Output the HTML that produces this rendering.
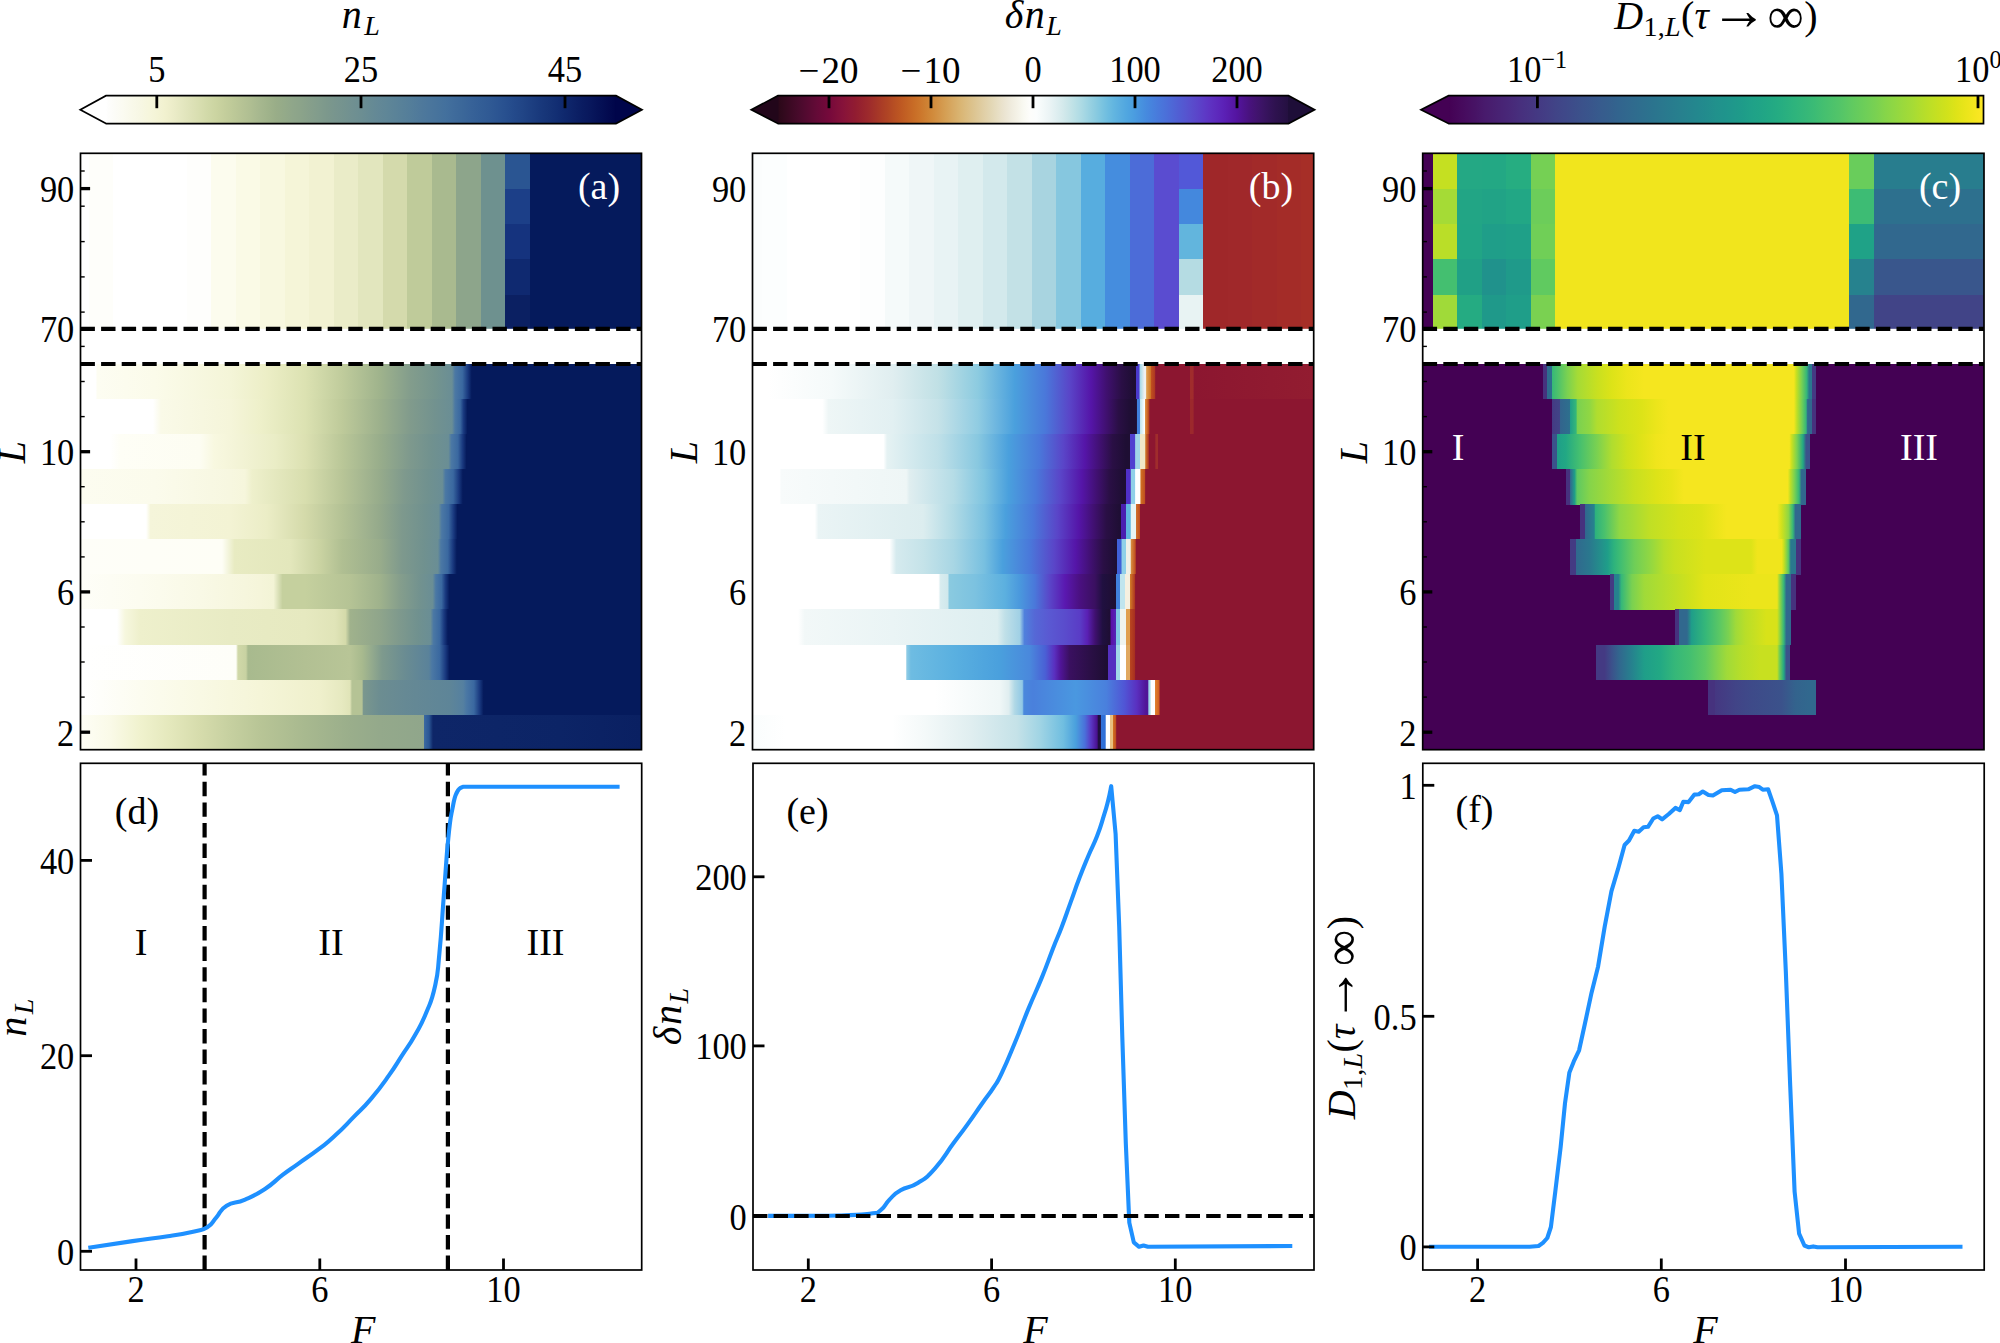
<!DOCTYPE html>
<html><head><meta charset="utf-8"><title>figure</title>
<style>html,body{margin:0;padding:0;background:#fff}svg{display:block}text{font-family:'Liberation Serif','DejaVu Serif',serif;}</style></head>
<body><svg width="2000" height="1343" viewBox="0 0 2000 1343" shape-rendering="auto">
<defs><linearGradient id="cba" gradientUnits="userSpaceOnUse" x1="106.0" y1="0" x2="616.0" y2="0"><stop offset="0.0000" stop-color="#fefefe"/><stop offset="0.0167" stop-color="#fcfcf7"/><stop offset="0.0333" stop-color="#fbfbf1"/><stop offset="0.0500" stop-color="#f9f9ea"/><stop offset="0.0667" stop-color="#f7f7e4"/><stop offset="0.0833" stop-color="#f6f6dd"/><stop offset="0.1000" stop-color="#f4f4d6"/><stop offset="0.1167" stop-color="#f1f1cf"/><stop offset="0.1333" stop-color="#ebecc8"/><stop offset="0.1500" stop-color="#e4e7c0"/><stop offset="0.1667" stop-color="#dee2b8"/><stop offset="0.1833" stop-color="#d8deb0"/><stop offset="0.2000" stop-color="#d1d9a8"/><stop offset="0.2167" stop-color="#cbd4a1"/><stop offset="0.2333" stop-color="#c4ce9c"/><stop offset="0.2500" stop-color="#bdc998"/><stop offset="0.2667" stop-color="#b6c395"/><stop offset="0.2833" stop-color="#afbe92"/><stop offset="0.3000" stop-color="#a7b88f"/><stop offset="0.3167" stop-color="#a0b38b"/><stop offset="0.3333" stop-color="#99ad88"/><stop offset="0.3500" stop-color="#94aa89"/><stop offset="0.3667" stop-color="#8fa68a"/><stop offset="0.3833" stop-color="#8ba38a"/><stop offset="0.4000" stop-color="#869f8b"/><stop offset="0.4167" stop-color="#819c8c"/><stop offset="0.4333" stop-color="#7c988c"/><stop offset="0.4500" stop-color="#78958e"/><stop offset="0.4667" stop-color="#74938f"/><stop offset="0.4833" stop-color="#709091"/><stop offset="0.5000" stop-color="#6c8e92"/><stop offset="0.5167" stop-color="#678b94"/><stop offset="0.5333" stop-color="#638896"/><stop offset="0.5500" stop-color="#5f8697"/><stop offset="0.5667" stop-color="#5b8398"/><stop offset="0.5833" stop-color="#578099"/><stop offset="0.6000" stop-color="#537d9a"/><stop offset="0.6167" stop-color="#4f799b"/><stop offset="0.6333" stop-color="#4b769c"/><stop offset="0.6500" stop-color="#47739c"/><stop offset="0.6667" stop-color="#43709d"/><stop offset="0.6833" stop-color="#3f6b9b"/><stop offset="0.7000" stop-color="#3b6799"/><stop offset="0.7167" stop-color="#376298"/><stop offset="0.7333" stop-color="#335e96"/><stop offset="0.7500" stop-color="#305a94"/><stop offset="0.7667" stop-color="#2c5592"/><stop offset="0.7833" stop-color="#28508f"/><stop offset="0.8000" stop-color="#244a8b"/><stop offset="0.8167" stop-color="#214586"/><stop offset="0.8333" stop-color="#1d3f81"/><stop offset="0.8500" stop-color="#19397c"/><stop offset="0.8667" stop-color="#163477"/><stop offset="0.8833" stop-color="#122e73"/><stop offset="0.9000" stop-color="#0f286d"/><stop offset="0.9167" stop-color="#0d2267"/><stop offset="0.9333" stop-color="#0a1c61"/><stop offset="0.9500" stop-color="#08175c"/><stop offset="0.9667" stop-color="#051156"/><stop offset="0.9833" stop-color="#030b50"/><stop offset="1.0000" stop-color="#00054a"/></linearGradient><linearGradient id="cbb" gradientUnits="userSpaceOnUse" x1="778.0" y1="0" x2="1288.5" y2="0"><stop offset="0.0000" stop-color="#2a0818"/><stop offset="0.0127" stop-color="#33091e"/><stop offset="0.0253" stop-color="#3d0924"/><stop offset="0.0380" stop-color="#460a2a"/><stop offset="0.0506" stop-color="#500a2f"/><stop offset="0.0633" stop-color="#5a0a33"/><stop offset="0.0759" stop-color="#640a37"/><stop offset="0.0886" stop-color="#6d0939"/><stop offset="0.1013" stop-color="#76093b"/><stop offset="0.1139" stop-color="#7e0e3a"/><stop offset="0.1266" stop-color="#86123a"/><stop offset="0.1392" stop-color="#8c1736"/><stop offset="0.1519" stop-color="#911c31"/><stop offset="0.1646" stop-color="#97232e"/><stop offset="0.1772" stop-color="#9d2a2c"/><stop offset="0.1899" stop-color="#a33329"/><stop offset="0.2025" stop-color="#aa3c26"/><stop offset="0.2152" stop-color="#b04524"/><stop offset="0.2278" stop-color="#b74f23"/><stop offset="0.2405" stop-color="#be5822"/><stop offset="0.2532" stop-color="#c36224"/><stop offset="0.2658" stop-color="#c86c26"/><stop offset="0.2785" stop-color="#cc762b"/><stop offset="0.2911" stop-color="#ce8133"/><stop offset="0.3038" stop-color="#d18b3c"/><stop offset="0.3165" stop-color="#d39549"/><stop offset="0.3291" stop-color="#d5a055"/><stop offset="0.3418" stop-color="#d7a963"/><stop offset="0.3544" stop-color="#d9b370"/><stop offset="0.3671" stop-color="#dbbb7e"/><stop offset="0.3797" stop-color="#dcc28c"/><stop offset="0.3924" stop-color="#dec99a"/><stop offset="0.4051" stop-color="#e1d0a8"/><stop offset="0.4177" stop-color="#e3d7b5"/><stop offset="0.4304" stop-color="#e7dec3"/><stop offset="0.4430" stop-color="#ebe4d1"/><stop offset="0.4557" stop-color="#efebdd"/><stop offset="0.4684" stop-color="#f4f2e7"/><stop offset="0.4810" stop-color="#f9f9f2"/><stop offset="0.4937" stop-color="#fdfdfb"/><stop offset="0.5063" stop-color="#fbfdfd"/><stop offset="0.5190" stop-color="#f3f9f9"/><stop offset="0.5316" stop-color="#ebf4f5"/><stop offset="0.5443" stop-color="#e0eff1"/><stop offset="0.5570" stop-color="#d5eaec"/><stop offset="0.5696" stop-color="#c8e5e8"/><stop offset="0.5823" stop-color="#bae0e6"/><stop offset="0.5949" stop-color="#acdae4"/><stop offset="0.6076" stop-color="#9cd3e2"/><stop offset="0.6203" stop-color="#8dcce0"/><stop offset="0.6329" stop-color="#7dc5e0"/><stop offset="0.6456" stop-color="#6ebde0"/><stop offset="0.6582" stop-color="#62b5e0"/><stop offset="0.6709" stop-color="#59ade0"/><stop offset="0.6835" stop-color="#50a6e0"/><stop offset="0.6962" stop-color="#4b9ee0"/><stop offset="0.7089" stop-color="#4894df"/><stop offset="0.7215" stop-color="#468ade"/><stop offset="0.7342" stop-color="#4781dd"/><stop offset="0.7468" stop-color="#4978db"/><stop offset="0.7595" stop-color="#4b70d9"/><stop offset="0.7722" stop-color="#4e67d6"/><stop offset="0.7848" stop-color="#515ed3"/><stop offset="0.7975" stop-color="#5556d0"/><stop offset="0.8101" stop-color="#594dcc"/><stop offset="0.8228" stop-color="#5b44c9"/><stop offset="0.8354" stop-color="#5d3ac6"/><stop offset="0.8481" stop-color="#5e31c1"/><stop offset="0.8608" stop-color="#5d29bc"/><stop offset="0.8734" stop-color="#5b21b6"/><stop offset="0.8861" stop-color="#581aab"/><stop offset="0.8987" stop-color="#5414a0"/><stop offset="0.9114" stop-color="#4e138e"/><stop offset="0.9241" stop-color="#48127d"/><stop offset="0.9367" stop-color="#421370"/><stop offset="0.9494" stop-color="#3b1464"/><stop offset="0.9620" stop-color="#341359"/><stop offset="0.9747" stop-color="#2e124f"/><stop offset="0.9873" stop-color="#291148"/><stop offset="1.0000" stop-color="#241040"/></linearGradient><linearGradient id="cbc" gradientUnits="userSpaceOnUse" x1="1448.6" y1="0" x2="1983.5" y2="0"><stop offset="0.0000" stop-color="#440154"/><stop offset="0.0167" stop-color="#46075a"/><stop offset="0.0333" stop-color="#470d60"/><stop offset="0.0500" stop-color="#471365"/><stop offset="0.0667" stop-color="#481a6c"/><stop offset="0.0833" stop-color="#481f70"/><stop offset="0.1000" stop-color="#482475"/><stop offset="0.1167" stop-color="#482979"/><stop offset="0.1333" stop-color="#472f7d"/><stop offset="0.1500" stop-color="#463480"/><stop offset="0.1667" stop-color="#443983"/><stop offset="0.1833" stop-color="#433e85"/><stop offset="0.2000" stop-color="#414487"/><stop offset="0.2167" stop-color="#3f4889"/><stop offset="0.2333" stop-color="#3d4d8a"/><stop offset="0.2500" stop-color="#3b528b"/><stop offset="0.2667" stop-color="#39568c"/><stop offset="0.2833" stop-color="#375b8d"/><stop offset="0.3000" stop-color="#355f8d"/><stop offset="0.3167" stop-color="#32648e"/><stop offset="0.3333" stop-color="#31688e"/><stop offset="0.3500" stop-color="#2f6c8e"/><stop offset="0.3667" stop-color="#2d708e"/><stop offset="0.3833" stop-color="#2b748e"/><stop offset="0.4000" stop-color="#2a788e"/><stop offset="0.4167" stop-color="#287c8e"/><stop offset="0.4333" stop-color="#27808e"/><stop offset="0.4500" stop-color="#25848e"/><stop offset="0.4667" stop-color="#23888e"/><stop offset="0.4833" stop-color="#228c8d"/><stop offset="0.5000" stop-color="#21918c"/><stop offset="0.5167" stop-color="#1f948c"/><stop offset="0.5333" stop-color="#1f988b"/><stop offset="0.5500" stop-color="#1e9c89"/><stop offset="0.5667" stop-color="#1fa188"/><stop offset="0.5833" stop-color="#20a486"/><stop offset="0.6000" stop-color="#22a884"/><stop offset="0.6167" stop-color="#25ac82"/><stop offset="0.6333" stop-color="#2ab07f"/><stop offset="0.6500" stop-color="#2fb47c"/><stop offset="0.6667" stop-color="#35b779"/><stop offset="0.6833" stop-color="#3bbb75"/><stop offset="0.7000" stop-color="#44bf70"/><stop offset="0.7167" stop-color="#4cc26c"/><stop offset="0.7333" stop-color="#54c568"/><stop offset="0.7500" stop-color="#5ec962"/><stop offset="0.7667" stop-color="#67cc5c"/><stop offset="0.7833" stop-color="#70cf57"/><stop offset="0.8000" stop-color="#7ad151"/><stop offset="0.8167" stop-color="#86d549"/><stop offset="0.8333" stop-color="#90d743"/><stop offset="0.8500" stop-color="#9bd93c"/><stop offset="0.8667" stop-color="#a5db36"/><stop offset="0.8833" stop-color="#b2dd2d"/><stop offset="0.9000" stop-color="#bddf26"/><stop offset="0.9167" stop-color="#c8e020"/><stop offset="0.9333" stop-color="#d2e21b"/><stop offset="0.9500" stop-color="#dfe318"/><stop offset="0.9667" stop-color="#eae51a"/><stop offset="0.9833" stop-color="#f4e61e"/><stop offset="1.0000" stop-color="#fde725"/></linearGradient><linearGradient id="a12" gradientUnits="userSpaceOnUse" x1="80.50" y1="0" x2="641.50" y2="0"><stop offset="0.0000" stop-color="#FFFFFF"/><stop offset="0.0276" stop-color="#FFFFFF"/><stop offset="0.0294" stop-color="#FDFDF2"/><stop offset="0.1328" stop-color="#FBFBEA"/><stop offset="0.2665" stop-color="#F4F5D8"/><stop offset="0.3324" stop-color="#ECEEC6"/><stop offset="0.4002" stop-color="#DCE2B2"/><stop offset="0.4661" stop-color="#C0CC9C"/><stop offset="0.5339" stop-color="#9FB38C"/><stop offset="0.5873" stop-color="#839D8C"/><stop offset="0.6319" stop-color="#74948E"/><stop offset="0.6622" stop-color="#6A8E95"/><stop offset="0.6676" stop-color="#4B78A4"/><stop offset="0.6807" stop-color="#3A68A0"/><stop offset="0.6902" stop-color="#1A3A80"/><stop offset="0.6973" stop-color="#051A5C"/><stop offset="1.0000" stop-color="#051A5C"/></linearGradient><linearGradient id="a11" gradientUnits="userSpaceOnUse" x1="80.50" y1="0" x2="641.50" y2="0"><stop offset="0.0000" stop-color="#FFFFFF"/><stop offset="0.1292" stop-color="#FFFFFF"/><stop offset="0.1435" stop-color="#FAFAE8"/><stop offset="0.2665" stop-color="#F5F5DA"/><stop offset="0.3200" stop-color="#EEF0CA"/><stop offset="0.4002" stop-color="#DCE2B2"/><stop offset="0.4661" stop-color="#BECA9A"/><stop offset="0.5339" stop-color="#9CB08C"/><stop offset="0.5873" stop-color="#819B8C"/><stop offset="0.6319" stop-color="#72928F"/><stop offset="0.6622" stop-color="#6A8E95"/><stop offset="0.6676" stop-color="#4B78A4"/><stop offset="0.6769" stop-color="#3A68A0"/><stop offset="0.6827" stop-color="#1A3A80"/><stop offset="0.6898" stop-color="#051A5C"/><stop offset="1.0000" stop-color="#051A5C"/></linearGradient><linearGradient id="a10" gradientUnits="userSpaceOnUse" x1="80.50" y1="0" x2="641.50" y2="0"><stop offset="0.0000" stop-color="#FFFFFF"/><stop offset="0.0526" stop-color="#FFFFFF"/><stop offset="0.0704" stop-color="#FEFEF6"/><stop offset="0.2130" stop-color="#FDFDF2"/><stop offset="0.2380" stop-color="#F8F8E0"/><stop offset="0.2665" stop-color="#F5F5DA"/><stop offset="0.3467" stop-color="#EAEDC6"/><stop offset="0.4002" stop-color="#DCE1B2"/><stop offset="0.4661" stop-color="#BAC798"/><stop offset="0.5339" stop-color="#98AD8B"/><stop offset="0.5873" stop-color="#7E998D"/><stop offset="0.6266" stop-color="#70918F"/><stop offset="0.6558" stop-color="#6A8E95"/><stop offset="0.6611" stop-color="#4B78A4"/><stop offset="0.6728" stop-color="#3A68A0"/><stop offset="0.6809" stop-color="#1A3A80"/><stop offset="0.6881" stop-color="#051A5C"/><stop offset="1.0000" stop-color="#051A5C"/></linearGradient><linearGradient id="a9" gradientUnits="userSpaceOnUse" x1="80.50" y1="0" x2="641.50" y2="0"><stop offset="0.0000" stop-color="#FCFCF0"/><stop offset="0.1328" stop-color="#FBFBEC"/><stop offset="0.2665" stop-color="#F7F7E0"/><stop offset="0.2932" stop-color="#F6F6DC"/><stop offset="0.3057" stop-color="#EEF0CC"/><stop offset="0.4002" stop-color="#D8DEAE"/><stop offset="0.4661" stop-color="#B8C597"/><stop offset="0.5339" stop-color="#96AB8B"/><stop offset="0.5784" stop-color="#7E998D"/><stop offset="0.6194" stop-color="#70918F"/><stop offset="0.6451" stop-color="#6A8E95"/><stop offset="0.6504" stop-color="#4B78A4"/><stop offset="0.6642" stop-color="#3A68A0"/><stop offset="0.6743" stop-color="#1A3A80"/><stop offset="0.6815" stop-color="#051A5C"/><stop offset="1.0000" stop-color="#051A5C"/></linearGradient><linearGradient id="a8" gradientUnits="userSpaceOnUse" x1="80.50" y1="0" x2="641.50" y2="0"><stop offset="0.0000" stop-color="#FFFFFF"/><stop offset="0.1168" stop-color="#FFFFFF"/><stop offset="0.1248" stop-color="#F5F5DA"/><stop offset="0.2665" stop-color="#F3F3D4"/><stop offset="0.3324" stop-color="#EBEDC6"/><stop offset="0.4002" stop-color="#D4DAAA"/><stop offset="0.4661" stop-color="#B4C295"/><stop offset="0.5339" stop-color="#94A98B"/><stop offset="0.5731" stop-color="#7E998D"/><stop offset="0.6141" stop-color="#70918F"/><stop offset="0.6385" stop-color="#6A8E95"/><stop offset="0.6439" stop-color="#4B78A4"/><stop offset="0.6561" stop-color="#3A68A0"/><stop offset="0.6649" stop-color="#1A3A80"/><stop offset="0.6720" stop-color="#051A5C"/><stop offset="1.0000" stop-color="#051A5C"/></linearGradient><linearGradient id="a7" gradientUnits="userSpaceOnUse" x1="80.50" y1="0" x2="641.50" y2="0"><stop offset="0.0000" stop-color="#FEFEF8"/><stop offset="0.2522" stop-color="#FEFEF6"/><stop offset="0.2745" stop-color="#E8EBC2"/><stop offset="0.3734" stop-color="#E3E7BC"/><stop offset="0.4269" stop-color="#CAD3A2"/><stop offset="0.4661" stop-color="#B0BF92"/><stop offset="0.5339" stop-color="#98AC8B"/><stop offset="0.5731" stop-color="#7E998D"/><stop offset="0.6123" stop-color="#70918F"/><stop offset="0.6371" stop-color="#6A8E95"/><stop offset="0.6424" stop-color="#4B78A4"/><stop offset="0.6548" stop-color="#3A68A0"/><stop offset="0.6636" stop-color="#1A3A80"/><stop offset="0.6708" stop-color="#051A5C"/><stop offset="1.0000" stop-color="#051A5C"/></linearGradient><linearGradient id="a6" gradientUnits="userSpaceOnUse" x1="80.50" y1="0" x2="641.50" y2="0"><stop offset="0.0000" stop-color="#FEFEF8"/><stop offset="0.1061" stop-color="#FCFCF0"/><stop offset="0.2130" stop-color="#F9F9E6"/><stop offset="0.3200" stop-color="#F5F5DA"/><stop offset="0.3440" stop-color="#F3F4D6"/><stop offset="0.3601" stop-color="#C5D09E"/><stop offset="0.4002" stop-color="#C5D09E"/><stop offset="0.4804" stop-color="#B5C395"/><stop offset="0.5339" stop-color="#9FB28C"/><stop offset="0.5695" stop-color="#859E8C"/><stop offset="0.6052" stop-color="#72928F"/><stop offset="0.6278" stop-color="#6A8E95"/><stop offset="0.6332" stop-color="#4B78A4"/><stop offset="0.6436" stop-color="#3A68A0"/><stop offset="0.6504" stop-color="#1A3A80"/><stop offset="0.6576" stop-color="#051A5C"/><stop offset="1.0000" stop-color="#051A5C"/></linearGradient><linearGradient id="a5" gradientUnits="userSpaceOnUse" x1="80.50" y1="0" x2="641.50" y2="0"><stop offset="0.0000" stop-color="#FFFFFF"/><stop offset="0.0651" stop-color="#FFFFFF"/><stop offset="0.0793" stop-color="#F6F7DE"/><stop offset="0.1061" stop-color="#EEF0CC"/><stop offset="0.2665" stop-color="#E8EBC4"/><stop offset="0.4002" stop-color="#E6E9C0"/><stop offset="0.4537" stop-color="#E0E4B8"/><stop offset="0.4724" stop-color="#D4DAAA"/><stop offset="0.4804" stop-color="#A0B28C"/><stop offset="0.5339" stop-color="#8FA58B"/><stop offset="0.5695" stop-color="#7E998D"/><stop offset="0.6016" stop-color="#70918F"/><stop offset="0.6239" stop-color="#6A8E95"/><stop offset="0.6292" stop-color="#4B78A4"/><stop offset="0.6403" stop-color="#3A68A0"/><stop offset="0.6478" stop-color="#1A3A80"/><stop offset="0.6549" stop-color="#051A5C"/><stop offset="1.0000" stop-color="#051A5C"/></linearGradient><linearGradient id="a4" gradientUnits="userSpaceOnUse" x1="80.50" y1="0" x2="641.50" y2="0"><stop offset="0.0000" stop-color="#FFFFFF"/><stop offset="0.2772" stop-color="#FEFEF8"/><stop offset="0.2807" stop-color="#D0D8A8"/><stop offset="0.2950" stop-color="#C8D2A2"/><stop offset="0.2986" stop-color="#A8BA8E"/><stop offset="0.4002" stop-color="#B2C093"/><stop offset="0.4804" stop-color="#B8C597"/><stop offset="0.5018" stop-color="#A8BA8E"/><stop offset="0.5374" stop-color="#7E9A8D"/><stop offset="0.5784" stop-color="#6A8C92"/><stop offset="0.6212" stop-color="#5A829A"/><stop offset="0.6266" stop-color="#4B78A4"/><stop offset="0.6403" stop-color="#3A68A0"/><stop offset="0.6504" stop-color="#1A3A80"/><stop offset="0.6576" stop-color="#051A5C"/><stop offset="1.0000" stop-color="#051A5C"/></linearGradient><linearGradient id="a3" gradientUnits="userSpaceOnUse" x1="80.50" y1="0" x2="641.50" y2="0"><stop offset="0.0000" stop-color="#FFFFFF"/><stop offset="0.1061" stop-color="#FCFCF0"/><stop offset="0.2130" stop-color="#F9F9E4"/><stop offset="0.3200" stop-color="#F5F5D8"/><stop offset="0.4269" stop-color="#EFF0CC"/><stop offset="0.4661" stop-color="#E6E9C0"/><stop offset="0.4804" stop-color="#E0E4B8"/><stop offset="0.4840" stop-color="#B5C395"/><stop offset="0.5018" stop-color="#B5C395"/><stop offset="0.5045" stop-color="#7A978E"/><stop offset="0.5339" stop-color="#6C8D91"/><stop offset="0.5784" stop-color="#668994"/><stop offset="0.6586" stop-color="#5E8598"/><stop offset="0.6822" stop-color="#5580A0"/><stop offset="0.6875" stop-color="#4B78A4"/><stop offset="0.7012" stop-color="#3A68A0"/><stop offset="0.7114" stop-color="#1A3A80"/><stop offset="0.7185" stop-color="#051A5C"/><stop offset="1.0000" stop-color="#051A5C"/></linearGradient><linearGradient id="a2" gradientUnits="userSpaceOnUse" x1="80.50" y1="0" x2="641.50" y2="0"><stop offset="0.0000" stop-color="#FEFEF6"/><stop offset="0.0526" stop-color="#FAFAE8"/><stop offset="0.1061" stop-color="#F0F2CE"/><stop offset="0.1595" stop-color="#E4E8BC"/><stop offset="0.2130" stop-color="#D6DCAC"/><stop offset="0.2665" stop-color="#C6D0A0"/><stop offset="0.3200" stop-color="#B8C596"/><stop offset="0.4002" stop-color="#A8B98F"/><stop offset="0.4804" stop-color="#9AAE8B"/><stop offset="0.5339" stop-color="#94A98B"/><stop offset="0.6114" stop-color="#90A68B"/><stop offset="0.6132" stop-color="#3A68A0"/><stop offset="0.6212" stop-color="#2B5795"/><stop offset="0.6283" stop-color="#0E2668"/><stop offset="0.8547" stop-color="#0C2466"/><stop offset="0.9991" stop-color="#0A2062"/><stop offset="1.0000" stop-color="#0A2062"/></linearGradient><linearGradient id="b12" gradientUnits="userSpaceOnUse" x1="752.50" y1="0" x2="1313.70" y2="0"><stop offset="0.0006" stop-color="#FFFFFF"/><stop offset="0.0267" stop-color="#FFFFFF"/><stop offset="0.1409" stop-color="#F5FAFA"/><stop offset="0.2497" stop-color="#E0EEF0"/><stop offset="0.3312" stop-color="#C0E0E5"/><stop offset="0.4020" stop-color="#8CCBE0"/><stop offset="0.4672" stop-color="#4AA0DD"/><stop offset="0.5216" stop-color="#4A78DA"/><stop offset="0.5651" stop-color="#5A45C8"/><stop offset="0.6032" stop-color="#5515A8"/><stop offset="0.6304" stop-color="#401070"/><stop offset="0.6576" stop-color="#2A0F45"/><stop offset="0.6793" stop-color="#1E0E33"/><stop offset="0.6826" stop-color="#1E0E33"/><stop offset="0.6837" stop-color="#4A3ACD"/><stop offset="0.6891" stop-color="#4A3ACD"/><stop offset="0.6902" stop-color="#A0D8E8"/><stop offset="0.6984" stop-color="#F0F0F0"/><stop offset="0.7011" stop-color="#F0F0F0"/><stop offset="0.7022" stop-color="#E0A050"/><stop offset="0.7092" stop-color="#D07828"/><stop offset="0.7103" stop-color="#C0501E"/><stop offset="0.7163" stop-color="#B03A22"/><stop offset="0.7185" stop-color="#8C1630"/><stop offset="0.7789" stop-color="#8C1630"/><stop offset="0.7799" stop-color="#A02C2C"/><stop offset="0.7854" stop-color="#A02C2C"/><stop offset="0.7865" stop-color="#8C1630"/><stop offset="0.8479" stop-color="#8E1830"/><stop offset="1.0000" stop-color="#921C30"/></linearGradient><linearGradient id="b11" gradientUnits="userSpaceOnUse" x1="752.50" y1="0" x2="1313.70" y2="0"><stop offset="0.0006" stop-color="#FFFFFF"/><stop offset="0.1246" stop-color="#FFFFFF"/><stop offset="0.1355" stop-color="#EEF6F6"/><stop offset="0.2497" stop-color="#E2F0F2"/><stop offset="0.3312" stop-color="#C5E2E8"/><stop offset="0.4020" stop-color="#90CCE2"/><stop offset="0.4672" stop-color="#4AA0DD"/><stop offset="0.5216" stop-color="#4A78DA"/><stop offset="0.5651" stop-color="#5A45C8"/><stop offset="0.6032" stop-color="#5515A8"/><stop offset="0.6304" stop-color="#401070"/><stop offset="0.6521" stop-color="#2A0F45"/><stop offset="0.6739" stop-color="#1E0E33"/><stop offset="0.6842" stop-color="#1E0E33"/><stop offset="0.6853" stop-color="#4080DD"/><stop offset="0.6897" stop-color="#4080DD"/><stop offset="0.6908" stop-color="#C0E5EE"/><stop offset="0.6989" stop-color="#FFFFFF"/><stop offset="0.7000" stop-color="#E09040"/><stop offset="0.7054" stop-color="#C0501E"/><stop offset="0.7082" stop-color="#8C1630"/><stop offset="0.7789" stop-color="#8C1630"/><stop offset="0.7799" stop-color="#9C282C"/><stop offset="0.7854" stop-color="#9C282C"/><stop offset="0.7865" stop-color="#8C1630"/><stop offset="1.0000" stop-color="#8C1630"/></linearGradient><linearGradient id="b10" gradientUnits="userSpaceOnUse" x1="752.50" y1="0" x2="1313.70" y2="0"><stop offset="0.0006" stop-color="#FFFFFF"/><stop offset="0.2333" stop-color="#FFFFFF"/><stop offset="0.2399" stop-color="#E5F2F3"/><stop offset="0.3312" stop-color="#BFE0E8"/><stop offset="0.4020" stop-color="#88C8E0"/><stop offset="0.4563" stop-color="#4AA0DD"/><stop offset="0.5107" stop-color="#4A78DA"/><stop offset="0.5542" stop-color="#5A45C8"/><stop offset="0.5923" stop-color="#5515A8"/><stop offset="0.6195" stop-color="#401070"/><stop offset="0.6413" stop-color="#2A0F45"/><stop offset="0.6657" stop-color="#1E0E33"/><stop offset="0.6723" stop-color="#1E0E33"/><stop offset="0.6733" stop-color="#5040D0"/><stop offset="0.6815" stop-color="#5040D0"/><stop offset="0.6826" stop-color="#A0D5E8"/><stop offset="0.6897" stop-color="#A0D5E8"/><stop offset="0.6908" stop-color="#F0E8C8"/><stop offset="0.6995" stop-color="#F0E8C8"/><stop offset="0.7005" stop-color="#D07828"/><stop offset="0.7054" stop-color="#B03A22"/><stop offset="0.7071" stop-color="#8C1630"/><stop offset="0.7174" stop-color="#8C1630"/><stop offset="0.7185" stop-color="#A02C2C"/><stop offset="0.7218" stop-color="#A02C2C"/><stop offset="0.7228" stop-color="#8C1630"/><stop offset="1.0000" stop-color="#8C1630"/></linearGradient><linearGradient id="b9" gradientUnits="userSpaceOnUse" x1="752.50" y1="0" x2="1313.70" y2="0"><stop offset="0.0006" stop-color="#FFFFFF"/><stop offset="0.0484" stop-color="#FFFFFF"/><stop offset="0.0512" stop-color="#F8FBFB"/><stop offset="0.2741" stop-color="#EEF6F6"/><stop offset="0.2796" stop-color="#E0EEF0"/><stop offset="0.3584" stop-color="#B5DCE6"/><stop offset="0.4128" stop-color="#80C5E0"/><stop offset="0.4563" stop-color="#4AA0DD"/><stop offset="0.5053" stop-color="#4A78DA"/><stop offset="0.5488" stop-color="#5A45C8"/><stop offset="0.5869" stop-color="#5515A8"/><stop offset="0.6141" stop-color="#401070"/><stop offset="0.6358" stop-color="#2A0F45"/><stop offset="0.6603" stop-color="#1E0E33"/><stop offset="0.6652" stop-color="#1E0E33"/><stop offset="0.6663" stop-color="#5030C8"/><stop offset="0.6733" stop-color="#5030C8"/><stop offset="0.6744" stop-color="#90D0E8"/><stop offset="0.6815" stop-color="#90D0E8"/><stop offset="0.6826" stop-color="#FFFFFF"/><stop offset="0.6908" stop-color="#FFFFFF"/><stop offset="0.6918" stop-color="#D07020"/><stop offset="0.6989" stop-color="#C05020"/><stop offset="0.7005" stop-color="#8C1630"/><stop offset="1.0000" stop-color="#8C1630"/></linearGradient><linearGradient id="b8" gradientUnits="userSpaceOnUse" x1="752.50" y1="0" x2="1313.70" y2="0"><stop offset="0.0006" stop-color="#FFFFFF"/><stop offset="0.1110" stop-color="#FFFFFF"/><stop offset="0.1175" stop-color="#EAF4F5"/><stop offset="0.3041" stop-color="#DCEDEF"/><stop offset="0.3584" stop-color="#B0DAE5"/><stop offset="0.4128" stop-color="#7CC2E0"/><stop offset="0.4509" stop-color="#4AA0DD"/><stop offset="0.4999" stop-color="#4A78DA"/><stop offset="0.5434" stop-color="#5A45C8"/><stop offset="0.5814" stop-color="#5515A8"/><stop offset="0.6086" stop-color="#401070"/><stop offset="0.6304" stop-color="#2A0F45"/><stop offset="0.6549" stop-color="#1E0E33"/><stop offset="0.6559" stop-color="#1E0E33"/><stop offset="0.6570" stop-color="#4A20B0"/><stop offset="0.6652" stop-color="#4A20B0"/><stop offset="0.6663" stop-color="#60B8E0"/><stop offset="0.6733" stop-color="#60B8E0"/><stop offset="0.6744" stop-color="#E8F4F4"/><stop offset="0.6826" stop-color="#E8F4F4"/><stop offset="0.6837" stop-color="#D0702A"/><stop offset="0.6897" stop-color="#C05020"/><stop offset="0.6913" stop-color="#8C1630"/><stop offset="1.0000" stop-color="#8C1630"/></linearGradient><linearGradient id="b7" gradientUnits="userSpaceOnUse" x1="752.50" y1="0" x2="1313.70" y2="0"><stop offset="0.0006" stop-color="#FFFFFF"/><stop offset="0.2442" stop-color="#FFFFFF"/><stop offset="0.2562" stop-color="#D5EAEE"/><stop offset="0.3041" stop-color="#C5E3E9"/><stop offset="0.3584" stop-color="#A8D6E4"/><stop offset="0.4128" stop-color="#78C0E0"/><stop offset="0.4455" stop-color="#4AA0DD"/><stop offset="0.4944" stop-color="#4A78DA"/><stop offset="0.5379" stop-color="#5A45C8"/><stop offset="0.5760" stop-color="#5515A8"/><stop offset="0.6032" stop-color="#401070"/><stop offset="0.6249" stop-color="#2A0F45"/><stop offset="0.6467" stop-color="#1E0E33"/><stop offset="0.6489" stop-color="#1E0E33"/><stop offset="0.6500" stop-color="#4060D8"/><stop offset="0.6570" stop-color="#4060D8"/><stop offset="0.6581" stop-color="#90D0E8"/><stop offset="0.6652" stop-color="#90D0E8"/><stop offset="0.6663" stop-color="#F0F0E8"/><stop offset="0.6733" stop-color="#F0F0E8"/><stop offset="0.6744" stop-color="#D89040"/><stop offset="0.6820" stop-color="#C05020"/><stop offset="0.6837" stop-color="#8C1630"/><stop offset="1.0000" stop-color="#8C1630"/></linearGradient><linearGradient id="b6" gradientUnits="userSpaceOnUse" x1="752.50" y1="0" x2="1313.70" y2="0"><stop offset="0.0006" stop-color="#FFFFFF"/><stop offset="0.3312" stop-color="#FFFFFF"/><stop offset="0.3351" stop-color="#D8ECEF"/><stop offset="0.3476" stop-color="#D0E8EC"/><stop offset="0.3508" stop-color="#8ACAE0"/><stop offset="0.3965" stop-color="#7CC2E0"/><stop offset="0.4498" stop-color="#5CB0DF"/><stop offset="0.4765" stop-color="#4A98DD"/><stop offset="0.5031" stop-color="#4A78DA"/><stop offset="0.5298" stop-color="#5A45C8"/><stop offset="0.5570" stop-color="#5A18B0"/><stop offset="0.5836" stop-color="#4A1080"/><stop offset="0.6103" stop-color="#3A1060"/><stop offset="0.6239" stop-color="#201040"/><stop offset="0.6451" stop-color="#1E0E33"/><stop offset="0.6472" stop-color="#1E0E33"/><stop offset="0.6483" stop-color="#4080DD"/><stop offset="0.6543" stop-color="#4080DD"/><stop offset="0.6554" stop-color="#C0E5EE"/><stop offset="0.6636" stop-color="#C0E5EE"/><stop offset="0.6646" stop-color="#F5F0E0"/><stop offset="0.6723" stop-color="#F5F0E0"/><stop offset="0.6733" stop-color="#D07828"/><stop offset="0.6810" stop-color="#B03A20"/><stop offset="0.6826" stop-color="#8C1630"/><stop offset="1.0000" stop-color="#8C1630"/></linearGradient><linearGradient id="b5" gradientUnits="userSpaceOnUse" x1="752.50" y1="0" x2="1313.70" y2="0"><stop offset="0.0006" stop-color="#FFFFFF"/><stop offset="0.0811" stop-color="#FFFFFF"/><stop offset="0.0930" stop-color="#F2F8F8"/><stop offset="0.2497" stop-color="#EAF4F5"/><stop offset="0.4362" stop-color="#DDEEF0"/><stop offset="0.4498" stop-color="#C0E0E8"/><stop offset="0.4765" stop-color="#A0D0E5"/><stop offset="0.4846" stop-color="#5080DC"/><stop offset="0.5031" stop-color="#5568D6"/><stop offset="0.5298" stop-color="#5A58D2"/><stop offset="0.5570" stop-color="#5A4CCC"/><stop offset="0.5836" stop-color="#5A3CC6"/><stop offset="0.5967" stop-color="#5A20B4"/><stop offset="0.6103" stop-color="#401070"/><stop offset="0.6239" stop-color="#201040"/><stop offset="0.6369" stop-color="#1E0E33"/><stop offset="0.6391" stop-color="#5A10A8"/><stop offset="0.6472" stop-color="#5525B5"/><stop offset="0.6483" stop-color="#80C8E5"/><stop offset="0.6543" stop-color="#80C8E5"/><stop offset="0.6554" stop-color="#F0F5F0"/><stop offset="0.6652" stop-color="#F0F5F0"/><stop offset="0.6663" stop-color="#E0A050"/><stop offset="0.6723" stop-color="#E0A050"/><stop offset="0.6733" stop-color="#B84520"/><stop offset="0.6810" stop-color="#A83020"/><stop offset="0.6826" stop-color="#8C1630"/><stop offset="1.0000" stop-color="#8C1630"/></linearGradient><linearGradient id="b4" gradientUnits="userSpaceOnUse" x1="752.50" y1="0" x2="1313.70" y2="0"><stop offset="0.0006" stop-color="#FFFFFF"/><stop offset="0.2736" stop-color="#FFFFFF"/><stop offset="0.2747" stop-color="#90CCE5"/><stop offset="0.2823" stop-color="#6EBCE2"/><stop offset="0.3584" stop-color="#5AB0E0"/><stop offset="0.4400" stop-color="#4AA0DD"/><stop offset="0.4944" stop-color="#4A88DC"/><stop offset="0.5216" stop-color="#4A60D5"/><stop offset="0.5379" stop-color="#5A30C0"/><stop offset="0.5488" stop-color="#501598"/><stop offset="0.5651" stop-color="#3A1060"/><stop offset="0.6032" stop-color="#2A0F45"/><stop offset="0.6304" stop-color="#1E0E33"/><stop offset="0.6326" stop-color="#1E0E33"/><stop offset="0.6336" stop-color="#5530C0"/><stop offset="0.6472" stop-color="#5530C0"/><stop offset="0.6483" stop-color="#A0D8E8"/><stop offset="0.6543" stop-color="#A0D8E8"/><stop offset="0.6554" stop-color="#FFFFFF"/><stop offset="0.6652" stop-color="#FFFFFF"/><stop offset="0.6663" stop-color="#E0A860"/><stop offset="0.6723" stop-color="#E0A860"/><stop offset="0.6733" stop-color="#B84520"/><stop offset="0.6810" stop-color="#A83020"/><stop offset="0.6826" stop-color="#8C1630"/><stop offset="1.0000" stop-color="#8C1630"/></linearGradient><linearGradient id="b3" gradientUnits="userSpaceOnUse" x1="752.50" y1="0" x2="1313.70" y2="0"><stop offset="0.0006" stop-color="#FFFFFF"/><stop offset="0.3258" stop-color="#FFFFFF"/><stop offset="0.4400" stop-color="#F0F7F7"/><stop offset="0.4563" stop-color="#E0EEF0"/><stop offset="0.4672" stop-color="#B0D8E6"/><stop offset="0.4808" stop-color="#90C8E5"/><stop offset="0.4835" stop-color="#4A88DC"/><stop offset="0.4999" stop-color="#4A80DC"/><stop offset="0.5760" stop-color="#4A98E0"/><stop offset="0.6304" stop-color="#4A80DD"/><stop offset="0.6630" stop-color="#5055D5"/><stop offset="0.6848" stop-color="#5A30C0"/><stop offset="0.7011" stop-color="#501598"/><stop offset="0.7049" stop-color="#501598"/><stop offset="0.7060" stop-color="#A0D8E8"/><stop offset="0.7087" stop-color="#A0D8E8"/><stop offset="0.7098" stop-color="#FFFFFF"/><stop offset="0.7169" stop-color="#FFFFFF"/><stop offset="0.7179" stop-color="#E08030"/><stop offset="0.7245" stop-color="#D06020"/><stop offset="0.7261" stop-color="#8C1630"/><stop offset="1.0000" stop-color="#8C1630"/></linearGradient><linearGradient id="b2" gradientUnits="userSpaceOnUse" x1="752.50" y1="0" x2="1313.70" y2="0"><stop offset="0.0006" stop-color="#FAFDFD"/><stop offset="0.0593" stop-color="#FFFFFF"/><stop offset="0.2491" stop-color="#FFFFFF"/><stop offset="0.3068" stop-color="#F4F9F9"/><stop offset="0.3889" stop-color="#E0EEF0"/><stop offset="0.4710" stop-color="#C5E2E8"/><stop offset="0.5124" stop-color="#A0D4E4"/><stop offset="0.5537" stop-color="#70BEE0"/><stop offset="0.5760" stop-color="#4AA0DD"/><stop offset="0.5923" stop-color="#4A70DA"/><stop offset="0.6032" stop-color="#5A38C4"/><stop offset="0.6141" stop-color="#4A1090"/><stop offset="0.6162" stop-color="#201040"/><stop offset="0.6200" stop-color="#201040"/><stop offset="0.6211" stop-color="#3070D8"/><stop offset="0.6287" stop-color="#3070D8"/><stop offset="0.6298" stop-color="#FFFFFF"/><stop offset="0.6364" stop-color="#FFFFFF"/><stop offset="0.6375" stop-color="#E8C080"/><stop offset="0.6418" stop-color="#E8C080"/><stop offset="0.6429" stop-color="#D07020"/><stop offset="0.6472" stop-color="#C05020"/><stop offset="0.6489" stop-color="#8C1630"/><stop offset="1.0000" stop-color="#8C1630"/></linearGradient><linearGradient id="c12" gradientUnits="userSpaceOnUse" x1="1542.90" y1="0" x2="1815.88" y2="0"><stop offset="0.0000" stop-color="#440154"/><stop offset="0.0000" stop-color="#46327E"/><stop offset="0.0134" stop-color="#46327E"/><stop offset="0.0134" stop-color="#2E6D8E"/><stop offset="0.0324" stop-color="#2E6D8E"/><stop offset="0.0324" stop-color="#35B779"/><stop offset="0.0526" stop-color="#4AC16D"/><stop offset="0.0895" stop-color="#7AD151"/><stop offset="0.1275" stop-color="#A5DB36"/><stop offset="0.1980" stop-color="#C8E020"/><stop offset="0.2528" stop-color="#DDE318"/><stop offset="0.3076" stop-color="#ECE51B"/><stop offset="0.3714" stop-color="#F5E61F"/><stop offset="0.9195" stop-color="#F5E61F"/><stop offset="0.9284" stop-color="#C8E020"/><stop offset="0.9474" stop-color="#7AD151"/><stop offset="0.9664" stop-color="#35B779"/><stop offset="0.9754" stop-color="#2A788E"/><stop offset="0.9866" stop-color="#2A788E"/><stop offset="0.9866" stop-color="#443A83"/><stop offset="1.0000" stop-color="#443A83"/><stop offset="1.0000" stop-color="#440154"/></linearGradient><linearGradient id="c11" gradientUnits="userSpaceOnUse" x1="1551.76" y1="0" x2="1815.88" y2="0"><stop offset="0.0000" stop-color="#440154"/><stop offset="0.0000" stop-color="#443A83"/><stop offset="0.0301" stop-color="#414487"/><stop offset="0.0301" stop-color="#33638D"/><stop offset="0.0694" stop-color="#2D708E"/><stop offset="0.0694" stop-color="#1F9E89"/><stop offset="0.0925" stop-color="#35B779"/><stop offset="0.0960" stop-color="#7AD151"/><stop offset="0.1434" stop-color="#90D743"/><stop offset="0.1711" stop-color="#B0DD2F"/><stop offset="0.2555" stop-color="#CDE11D"/><stop offset="0.3410" stop-color="#DDE318"/><stop offset="0.3965" stop-color="#ECE51B"/><stop offset="0.4428" stop-color="#F5E61F"/><stop offset="0.9168" stop-color="#F5E61F"/><stop offset="0.9283" stop-color="#BDDF26"/><stop offset="0.9480" stop-color="#6ECE58"/><stop offset="0.9630" stop-color="#35B779"/><stop offset="0.9688" stop-color="#31688E"/><stop offset="0.9838" stop-color="#31688E"/><stop offset="0.9838" stop-color="#46327E"/><stop offset="1.0000" stop-color="#46327E"/><stop offset="1.0000" stop-color="#440154"/></linearGradient><linearGradient id="c10" gradientUnits="userSpaceOnUse" x1="1551.76" y1="0" x2="1810.08" y2="0"><stop offset="0.0000" stop-color="#440154"/><stop offset="0.0000" stop-color="#3B528B"/><stop offset="0.0189" stop-color="#3B528B"/><stop offset="0.0189" stop-color="#1F9E89"/><stop offset="0.0544" stop-color="#22A884"/><stop offset="0.1064" stop-color="#44BF70"/><stop offset="0.1749" stop-color="#7AD151"/><stop offset="0.2329" stop-color="#B0DD2F"/><stop offset="0.2908" stop-color="#CDE11D"/><stop offset="0.3487" stop-color="#E0E318"/><stop offset="0.4054" stop-color="#F0E51C"/><stop offset="0.4527" stop-color="#F5E61F"/><stop offset="0.9196" stop-color="#F5E61F"/><stop offset="0.9291" stop-color="#C8E020"/><stop offset="0.9492" stop-color="#7AD151"/><stop offset="0.9728" stop-color="#22A884"/><stop offset="0.9846" stop-color="#3B528B"/><stop offset="1.0000" stop-color="#3B528B"/><stop offset="1.0000" stop-color="#440154"/></linearGradient><linearGradient id="c9" gradientUnits="userSpaceOnUse" x1="1566.41" y1="0" x2="1806.11" y2="0"><stop offset="0.0000" stop-color="#440154"/><stop offset="0.0000" stop-color="#46327E"/><stop offset="0.0166" stop-color="#46327E"/><stop offset="0.0166" stop-color="#31688E"/><stop offset="0.0344" stop-color="#1F9E89"/><stop offset="0.0446" stop-color="#5EC962"/><stop offset="0.0968" stop-color="#85D44A"/><stop offset="0.1898" stop-color="#A8DB34"/><stop offset="0.2828" stop-color="#C8E020"/><stop offset="0.3758" stop-color="#DDE318"/><stop offset="0.4382" stop-color="#E8E419"/><stop offset="0.4904" stop-color="#F5E61F"/><stop offset="0.9236" stop-color="#F5E61F"/><stop offset="0.9338" stop-color="#C0DF25"/><stop offset="0.9516" stop-color="#7AD151"/><stop offset="0.9707" stop-color="#35B779"/><stop offset="0.9809" stop-color="#31688E"/><stop offset="1.0000" stop-color="#31688E"/><stop offset="1.0000" stop-color="#440154"/></linearGradient><linearGradient id="c8" gradientUnits="userSpaceOnUse" x1="1580.15" y1="0" x2="1800.61" y2="0"><stop offset="0.0000" stop-color="#440154"/><stop offset="0.0000" stop-color="#46327E"/><stop offset="0.0235" stop-color="#46327E"/><stop offset="0.0235" stop-color="#31688E"/><stop offset="0.0637" stop-color="#26828E"/><stop offset="0.0693" stop-color="#2DB27D"/><stop offset="0.1108" stop-color="#4AC16D"/><stop offset="0.1787" stop-color="#90D743"/><stop offset="0.3144" stop-color="#C0DF25"/><stop offset="0.4488" stop-color="#D5E21A"/><stop offset="0.5499" stop-color="#DDE318"/><stop offset="0.6177" stop-color="#ECE51B"/><stop offset="0.6648" stop-color="#F5E61F"/><stop offset="0.8934" stop-color="#F5E61F"/><stop offset="0.9141" stop-color="#D0E11C"/><stop offset="0.9446" stop-color="#90D743"/><stop offset="0.9654" stop-color="#35B779"/><stop offset="0.9765" stop-color="#31688E"/><stop offset="1.0000" stop-color="#31688E"/><stop offset="1.0000" stop-color="#440154"/></linearGradient><linearGradient id="c7" gradientUnits="userSpaceOnUse" x1="1570.38" y1="0" x2="1800.61" y2="0"><stop offset="0.0000" stop-color="#440154"/><stop offset="0.0000" stop-color="#443A83"/><stop offset="0.0225" stop-color="#443A83"/><stop offset="0.0225" stop-color="#31688E"/><stop offset="0.0836" stop-color="#2A788E"/><stop offset="0.1618" stop-color="#1F9E89"/><stop offset="0.1883" stop-color="#2DB27D"/><stop offset="0.2135" stop-color="#3DBC74"/><stop offset="0.2772" stop-color="#6ECE58"/><stop offset="0.3435" stop-color="#90D743"/><stop offset="0.4072" stop-color="#B8DE29"/><stop offset="0.4536" stop-color="#C8E020"/><stop offset="0.5862" stop-color="#DDE318"/><stop offset="0.7851" stop-color="#DDE318"/><stop offset="0.8117" stop-color="#F0E51C"/><stop offset="0.9178" stop-color="#F0E51C"/><stop offset="0.9271" stop-color="#C8E020"/><stop offset="0.9469" stop-color="#5EC962"/><stop offset="0.9576" stop-color="#2A788E"/><stop offset="0.9801" stop-color="#2A788E"/><stop offset="0.9801" stop-color="#46327E"/><stop offset="1.0000" stop-color="#46327E"/><stop offset="1.0000" stop-color="#440154"/></linearGradient><linearGradient id="c6" gradientUnits="userSpaceOnUse" x1="1610.08" y1="0" x2="1796.03" y2="0"><stop offset="0.0000" stop-color="#440154"/><stop offset="0.0000" stop-color="#443A83"/><stop offset="0.0197" stop-color="#443A83"/><stop offset="0.0197" stop-color="#26828E"/><stop offset="0.0443" stop-color="#26828E"/><stop offset="0.0608" stop-color="#35B779"/><stop offset="0.1182" stop-color="#7AD151"/><stop offset="0.1839" stop-color="#A0DA39"/><stop offset="0.2660" stop-color="#B0DD2F"/><stop offset="0.3481" stop-color="#C0DF25"/><stop offset="0.4302" stop-color="#D0E11C"/><stop offset="0.5123" stop-color="#E2E418"/><stop offset="0.7586" stop-color="#ECE51B"/><stop offset="0.8982" stop-color="#ECE51B"/><stop offset="0.9097" stop-color="#A0DA39"/><stop offset="0.9343" stop-color="#35B779"/><stop offset="0.9475" stop-color="#31688E"/><stop offset="0.9721" stop-color="#31688E"/><stop offset="0.9721" stop-color="#46327E"/><stop offset="1.0000" stop-color="#46327E"/><stop offset="1.0000" stop-color="#440154"/></linearGradient><linearGradient id="c5" gradientUnits="userSpaceOnUse" x1="1674.81" y1="0" x2="1790.84" y2="0"><stop offset="0.0000" stop-color="#440154"/><stop offset="0.0000" stop-color="#46327E"/><stop offset="0.0395" stop-color="#46327E"/><stop offset="0.0395" stop-color="#31688E"/><stop offset="0.1053" stop-color="#31688E"/><stop offset="0.1447" stop-color="#1F9E89"/><stop offset="0.2632" stop-color="#35B779"/><stop offset="0.3947" stop-color="#5EC962"/><stop offset="0.4605" stop-color="#7AD151"/><stop offset="0.5263" stop-color="#A0DA39"/><stop offset="0.6053" stop-color="#B8DE29"/><stop offset="0.7895" stop-color="#D8E219"/><stop offset="0.8816" stop-color="#D8E219"/><stop offset="0.9000" stop-color="#A0DA39"/><stop offset="0.9395" stop-color="#35B779"/><stop offset="0.9605" stop-color="#31688E"/><stop offset="1.0000" stop-color="#31688E"/><stop offset="1.0000" stop-color="#440154"/></linearGradient><linearGradient id="c4" gradientUnits="userSpaceOnUse" x1="1596.03" y1="0" x2="1790.23" y2="0"><stop offset="0.0000" stop-color="#440154"/><stop offset="0.0000" stop-color="#443A83"/><stop offset="0.0440" stop-color="#443A83"/><stop offset="0.0833" stop-color="#3B528B"/><stop offset="0.1226" stop-color="#31688E"/><stop offset="0.1855" stop-color="#26828E"/><stop offset="0.2484" stop-color="#1F9E89"/><stop offset="0.3270" stop-color="#22A884"/><stop offset="0.4057" stop-color="#35B779"/><stop offset="0.4843" stop-color="#44BF70"/><stop offset="0.5629" stop-color="#5EC962"/><stop offset="0.6101" stop-color="#7AD151"/><stop offset="0.6730" stop-color="#A0DA39"/><stop offset="0.7516" stop-color="#B8DE29"/><stop offset="0.8459" stop-color="#C8E020"/><stop offset="0.9324" stop-color="#C8E020"/><stop offset="0.9434" stop-color="#7AD151"/><stop offset="0.9670" stop-color="#22A884"/><stop offset="0.9796" stop-color="#3B528B"/><stop offset="1.0000" stop-color="#3B528B"/><stop offset="1.0000" stop-color="#440154"/></linearGradient><linearGradient id="c3" gradientUnits="userSpaceOnUse" x1="1707.79" y1="0" x2="1815.88" y2="0"><stop offset="0.0000" stop-color="#440154"/><stop offset="0.0000" stop-color="#46327E"/><stop offset="0.0621" stop-color="#46327E"/><stop offset="0.0621" stop-color="#453781"/><stop offset="0.2599" stop-color="#414487"/><stop offset="0.4011" stop-color="#3E4A89"/><stop offset="0.6836" stop-color="#3B528B"/><stop offset="0.8107" stop-color="#33638D"/><stop offset="0.9379" stop-color="#31688E"/><stop offset="1.0000" stop-color="#31688E"/><stop offset="1.0000" stop-color="#440154"/></linearGradient></defs>
<rect width="2000" height="1343" fill="#fff"/>
<rect x="106.0" y="95.7" width="510.0" height="27.89999999999999" fill="url(#cba)"/>
<polygon points="106.5,95.7 80.3,109.65 106.5,123.6" fill="#ffffff"/>
<polygon points="615.5,95.7 642.0,109.65 615.5,123.6" fill="#00054A"/>
<polygon points="106.0,123.6 80.3,109.7 106.0,95.7 616.0,95.7 642.0,109.7 616.0,123.6" fill="none" stroke="#000" stroke-width="1.7" stroke-linejoin="miter"/>
<line x1="156.8" y1="95.7" x2="156.8" y2="108.2" stroke="#000" stroke-width="2.8"/>
<line x1="361.0" y1="95.7" x2="361.0" y2="108.2" stroke="#000" stroke-width="2.8"/>
<line x1="565.0" y1="95.7" x2="565.0" y2="108.2" stroke="#000" stroke-width="2.8"/>
<text transform="translate(156.8,82.2) scale(0.93,1)" font-size="37" text-anchor="middle" fill="#000"  >5</text>
<text transform="translate(361.0,82.2) scale(0.93,1)" font-size="37" text-anchor="middle" fill="#000"  >25</text>
<text transform="translate(565.0,82.2) scale(0.93,1)" font-size="37" text-anchor="middle" fill="#000"  >45</text>
<rect x="778.0" y="95.7" width="510.5" height="27.89999999999999" fill="url(#cbb)"/>
<polygon points="778.5,95.7 751.3,109.65 778.5,123.6" fill="#22061a"/>
<polygon points="1288.0,95.7 1314.6,109.65 1288.0,123.6" fill="#1E0E38"/>
<polygon points="778.0,123.6 751.3,109.7 778.0,95.7 1288.5,95.7 1314.6,109.7 1288.5,123.6" fill="none" stroke="#000" stroke-width="1.7" stroke-linejoin="miter"/>
<line x1="829" y1="95.7" x2="829" y2="108.2" stroke="#000" stroke-width="2.8"/>
<line x1="931" y1="95.7" x2="931" y2="108.2" stroke="#000" stroke-width="2.8"/>
<line x1="1033" y1="95.7" x2="1033" y2="108.2" stroke="#000" stroke-width="2.8"/>
<line x1="1135" y1="95.7" x2="1135" y2="108.2" stroke="#000" stroke-width="2.8"/>
<line x1="1237" y1="95.7" x2="1237" y2="108.2" stroke="#000" stroke-width="2.8"/>
<text x="828.5" y="82.5" font-size="37" text-anchor="middle">−<tspan dx="2">20</tspan></text>
<text x="930.5" y="82.5" font-size="37" text-anchor="middle">−<tspan dx="2">10</tspan></text>
<text transform="translate(1033.0,82.2) scale(0.93,1)" font-size="37" text-anchor="middle" fill="#000"  >0</text>
<text transform="translate(1135.0,82.2) scale(0.93,1)" font-size="37" text-anchor="middle" fill="#000"  >100</text>
<text transform="translate(1237.0,82.2) scale(0.93,1)" font-size="37" text-anchor="middle" fill="#000"  >200</text>
<rect x="1448.6" y="95.7" width="534.9000000000001" height="27.89999999999999" fill="url(#cbc)"/>
<polygon points="1449.1,95.7 1421.0,109.65 1449.1,123.6" fill="#440154"/>
<polygon points="1448.6,123.6 1421.0,109.7 1448.6,95.7 1983.5,95.7 1983.5,123.6" fill="none" stroke="#000" stroke-width="1.7" stroke-linejoin="miter"/>
<line x1="1537.4" y1="95.7" x2="1537.4" y2="108.2" stroke="#000" stroke-width="2.8"/>
<line x1="1978.0" y1="95.7" x2="1978.0" y2="108.2" stroke="#000" stroke-width="2.8"/>
<text transform="translate(1507,82.2) scale(0.93,1)" font-size="37" text-anchor="start">10<tspan dy="-14" font-size="26">−1</tspan></text>
<text transform="translate(1955,82.2) scale(0.93,1)" font-size="37" text-anchor="start">10<tspan dy="-14" font-size="26">0</tspan></text>
<text x="362" y="27.5" font-size="40" text-anchor="middle" letter-spacing="2.5"><tspan font-style="italic">n</tspan><tspan font-style="italic" font-size="28" dy="7">L</tspan></text>
<text x="1034" y="27.5" font-size="40" text-anchor="middle" letter-spacing="1.5"><tspan font-style="italic">δn</tspan><tspan font-style="italic" font-size="28" dy="7">L</tspan></text>
<text x="1716" y="29" font-size="40" text-anchor="middle" letter-spacing="0.3"><tspan font-style="italic">D</tspan><tspan font-size="28" dy="7">1,</tspan><tspan font-size="28" font-style="italic">L</tspan><tspan dy="-7">(</tspan><tspan font-style="italic">τ</tspan><tspan dx="1" font-size="57">→</tspan><tspan dx="0" dy="4" font-size="51">∞</tspan><tspan dy="-4">)</tspan></text>
<g shape-rendering="crispEdges">
<rect x="80.5" y="153.3" width="561.0" height="596.4000000000001" fill="#051A5C"/>
<rect x="80.50" y="153.3" width="8.70" height="175.5" fill="#FFFFFF"/>
<rect x="88.90" y="153.3" width="24.80" height="175.5" fill="#FEFEFA"/>
<rect x="113.40" y="153.3" width="24.80" height="175.5" fill="#FFFFFF"/>
<rect x="137.90" y="153.3" width="24.80" height="175.5" fill="#FFFFFF"/>
<rect x="162.40" y="153.3" width="24.80" height="175.5" fill="#FFFFFF"/>
<rect x="186.90" y="153.3" width="24.80" height="175.5" fill="#FEFEFC"/>
<rect x="211.40" y="153.3" width="24.80" height="175.5" fill="#FCFCEE"/>
<rect x="235.90" y="153.3" width="24.80" height="175.5" fill="#FAFAE6"/>
<rect x="260.40" y="153.3" width="24.80" height="175.5" fill="#F8F8E0"/>
<rect x="284.90" y="153.3" width="24.80" height="175.5" fill="#F5F5D8"/>
<rect x="309.40" y="153.3" width="24.80" height="175.5" fill="#F2F2D2"/>
<rect x="333.90" y="153.3" width="24.80" height="175.5" fill="#EAECC8"/>
<rect x="358.40" y="153.3" width="24.80" height="175.5" fill="#E2E6BE"/>
<rect x="382.90" y="153.3" width="24.80" height="175.5" fill="#D4DAAC"/>
<rect x="407.40" y="153.3" width="24.80" height="175.5" fill="#BFCB9A"/>
<rect x="431.90" y="153.3" width="24.80" height="175.5" fill="#A9BA8F"/>
<rect x="456.40" y="153.3" width="24.80" height="175.5" fill="#8DA58B"/>
<rect x="480.90" y="153.3" width="24.80" height="175.5" fill="#6E918F"/>
<rect x="505.40" y="153.30" width="24.80" height="35.60" fill="#2A5592"/>
<rect x="505.40" y="188.60" width="24.80" height="35.60" fill="#1C3F88"/>
<rect x="505.40" y="223.90" width="24.80" height="35.60" fill="#15337E"/>
<rect x="505.40" y="259.20" width="24.80" height="35.60" fill="#0F2970"/>
<rect x="505.40" y="294.50" width="24.80" height="35.60" fill="#0B2062"/>
<rect x="80.5" y="364.00" width="561.0" height="35.36" fill="url(#a12)"/>
<rect x="80.5" y="399.06" width="561.0" height="35.36" fill="url(#a11)"/>
<rect x="80.5" y="434.13" width="561.0" height="35.36" fill="url(#a10)"/>
<rect x="80.5" y="469.19" width="561.0" height="35.36" fill="url(#a9)"/>
<rect x="80.5" y="504.25" width="561.0" height="35.36" fill="url(#a8)"/>
<rect x="80.5" y="539.32" width="561.0" height="35.36" fill="url(#a7)"/>
<rect x="80.5" y="574.38" width="561.0" height="35.36" fill="url(#a6)"/>
<rect x="80.5" y="609.45" width="561.0" height="35.36" fill="url(#a5)"/>
<rect x="80.5" y="644.51" width="561.0" height="35.36" fill="url(#a4)"/>
<rect x="80.5" y="679.57" width="561.0" height="35.36" fill="url(#a3)"/>
<rect x="80.5" y="714.64" width="561.0" height="35.36" fill="url(#a2)"/>
<rect x="752.5" y="153.3" width="561.2" height="175.5" fill="#A0282A"/>
<rect x="752.50" y="153.3" width="9.90" height="175.5" fill="#FBFDFD"/>
<rect x="762.10" y="153.3" width="24.80" height="175.5" fill="#FCFEFE"/>
<rect x="786.60" y="153.3" width="24.80" height="175.5" fill="#FFFFFF"/>
<rect x="811.10" y="153.3" width="24.80" height="175.5" fill="#FFFFFF"/>
<rect x="835.60" y="153.3" width="24.80" height="175.5" fill="#FFFFFF"/>
<rect x="860.10" y="153.3" width="24.80" height="175.5" fill="#FDFEFE"/>
<rect x="884.60" y="153.3" width="24.80" height="175.5" fill="#F5FAFA"/>
<rect x="909.10" y="153.3" width="24.80" height="175.5" fill="#EFF6F7"/>
<rect x="933.60" y="153.3" width="24.80" height="175.5" fill="#E8F3F4"/>
<rect x="958.10" y="153.3" width="24.80" height="175.5" fill="#DFEFF0"/>
<rect x="982.60" y="153.3" width="24.80" height="175.5" fill="#D3E9EC"/>
<rect x="1007.10" y="153.3" width="24.80" height="175.5" fill="#C3E1E6"/>
<rect x="1031.60" y="153.3" width="24.80" height="175.5" fill="#A8D4E0"/>
<rect x="1056.10" y="153.3" width="24.80" height="175.5" fill="#86C7DF"/>
<rect x="1080.60" y="153.3" width="24.80" height="175.5" fill="#57ADDF"/>
<rect x="1105.10" y="153.3" width="24.80" height="175.5" fill="#458DDE"/>
<rect x="1129.60" y="153.3" width="24.80" height="175.5" fill="#4C6CD8"/>
<rect x="1154.10" y="153.3" width="24.80" height="175.5" fill="#5A4CD0"/>
<rect x="1178.60" y="153.30" width="24.80" height="35.60" fill="#5258D8"/>
<rect x="1178.60" y="188.60" width="24.80" height="35.60" fill="#4488DD"/>
<rect x="1178.60" y="223.90" width="24.80" height="35.60" fill="#62B5DD"/>
<rect x="1178.60" y="259.20" width="24.80" height="35.60" fill="#B5DCE3"/>
<rect x="1178.60" y="294.50" width="24.80" height="35.60" fill="#E8F3F3"/>
<rect x="1203.10" y="153.3" width="24.80" height="175.5" fill="#9F2729"/>
<rect x="1227.60" y="153.3" width="24.80" height="175.5" fill="#A0282A"/>
<rect x="1252.10" y="153.3" width="24.80" height="175.5" fill="#A22A29"/>
<rect x="1276.60" y="153.3" width="24.80" height="175.5" fill="#A42C28"/>
<rect x="1301.10" y="153.3" width="12.90" height="175.5" fill="#A62E27"/>
<rect x="752.5" y="364.00" width="561.2" height="35.36" fill="url(#b12)"/>
<rect x="752.5" y="399.06" width="561.2" height="35.36" fill="url(#b11)"/>
<rect x="752.5" y="434.13" width="561.2" height="35.36" fill="url(#b10)"/>
<rect x="752.5" y="469.19" width="561.2" height="35.36" fill="url(#b9)"/>
<rect x="752.5" y="504.25" width="561.2" height="35.36" fill="url(#b8)"/>
<rect x="752.5" y="539.32" width="561.2" height="35.36" fill="url(#b7)"/>
<rect x="752.5" y="574.38" width="561.2" height="35.36" fill="url(#b6)"/>
<rect x="752.5" y="609.45" width="561.2" height="35.36" fill="url(#b5)"/>
<rect x="752.5" y="644.51" width="561.2" height="35.36" fill="url(#b4)"/>
<rect x="752.5" y="679.57" width="561.2" height="35.36" fill="url(#b3)"/>
<rect x="752.5" y="714.64" width="561.2" height="35.36" fill="url(#b2)"/>
<rect x="1422.7" y="153.3" width="561.3" height="596.4000000000001" fill="#440154"/>
<rect x="1432.60" y="153.30" width="24.80" height="35.60" fill="#C5E021"/>
<rect x="1432.60" y="188.60" width="24.80" height="35.60" fill="#A5DB36"/>
<rect x="1432.60" y="223.90" width="24.80" height="35.60" fill="#BADE28"/>
<rect x="1432.60" y="259.20" width="24.80" height="35.60" fill="#44BF70"/>
<rect x="1432.60" y="294.50" width="24.80" height="35.60" fill="#A0DA39"/>
<rect x="1457.10" y="153.30" width="24.80" height="35.60" fill="#24A884"/>
<rect x="1457.10" y="188.60" width="24.80" height="35.60" fill="#22A585"/>
<rect x="1457.10" y="223.90" width="24.80" height="35.60" fill="#21A585"/>
<rect x="1457.10" y="259.20" width="24.80" height="35.60" fill="#20A086"/>
<rect x="1457.10" y="294.50" width="24.80" height="35.60" fill="#25AB82"/>
<rect x="1481.60" y="153.30" width="24.80" height="35.60" fill="#23A884"/>
<rect x="1481.60" y="188.60" width="24.80" height="35.60" fill="#21A386"/>
<rect x="1481.60" y="223.90" width="24.80" height="35.60" fill="#1F9E89"/>
<rect x="1481.60" y="259.20" width="24.80" height="35.60" fill="#20928C"/>
<rect x="1481.60" y="294.50" width="24.80" height="35.60" fill="#1F998A"/>
<rect x="1506.10" y="153.30" width="24.80" height="35.60" fill="#26AD81"/>
<rect x="1506.10" y="188.60" width="24.80" height="35.60" fill="#22A785"/>
<rect x="1506.10" y="223.90" width="24.80" height="35.60" fill="#1FA088"/>
<rect x="1506.10" y="259.20" width="24.80" height="35.60" fill="#1F9A8A"/>
<rect x="1506.10" y="294.50" width="24.80" height="35.60" fill="#1F9E89"/>
<rect x="1530.60" y="153.30" width="24.80" height="35.60" fill="#75D054"/>
<rect x="1530.60" y="188.60" width="24.80" height="35.60" fill="#6CCD5A"/>
<rect x="1530.60" y="223.90" width="24.80" height="35.60" fill="#70CF57"/>
<rect x="1530.60" y="259.20" width="24.80" height="35.60" fill="#60CA60"/>
<rect x="1530.60" y="294.50" width="24.80" height="35.60" fill="#7AD151"/>
<rect x="1555.10" y="153.30" width="24.80" height="35.60" fill="#F1E51D"/>
<rect x="1555.10" y="188.60" width="24.80" height="35.60" fill="#F1E51D"/>
<rect x="1555.10" y="223.90" width="24.80" height="35.60" fill="#F1E51D"/>
<rect x="1555.10" y="259.20" width="24.80" height="35.60" fill="#F1E51D"/>
<rect x="1555.10" y="294.50" width="24.80" height="35.60" fill="#F1E51D"/>
<rect x="1579.60" y="153.30" width="24.80" height="35.60" fill="#F1E51D"/>
<rect x="1579.60" y="188.60" width="24.80" height="35.60" fill="#F1E51D"/>
<rect x="1579.60" y="223.90" width="24.80" height="35.60" fill="#F1E51D"/>
<rect x="1579.60" y="259.20" width="24.80" height="35.60" fill="#F1E51D"/>
<rect x="1579.60" y="294.50" width="24.80" height="35.60" fill="#F1E51D"/>
<rect x="1604.10" y="153.30" width="24.80" height="35.60" fill="#F1E51D"/>
<rect x="1604.10" y="188.60" width="24.80" height="35.60" fill="#F1E51D"/>
<rect x="1604.10" y="223.90" width="24.80" height="35.60" fill="#F1E51D"/>
<rect x="1604.10" y="259.20" width="24.80" height="35.60" fill="#F1E51D"/>
<rect x="1604.10" y="294.50" width="24.80" height="35.60" fill="#F1E51D"/>
<rect x="1628.60" y="153.30" width="24.80" height="35.60" fill="#F1E51D"/>
<rect x="1628.60" y="188.60" width="24.80" height="35.60" fill="#F1E51D"/>
<rect x="1628.60" y="223.90" width="24.80" height="35.60" fill="#F1E51D"/>
<rect x="1628.60" y="259.20" width="24.80" height="35.60" fill="#F1E51D"/>
<rect x="1628.60" y="294.50" width="24.80" height="35.60" fill="#F1E51D"/>
<rect x="1653.10" y="153.30" width="24.80" height="35.60" fill="#F1E51D"/>
<rect x="1653.10" y="188.60" width="24.80" height="35.60" fill="#F1E51D"/>
<rect x="1653.10" y="223.90" width="24.80" height="35.60" fill="#F1E51D"/>
<rect x="1653.10" y="259.20" width="24.80" height="35.60" fill="#F1E51D"/>
<rect x="1653.10" y="294.50" width="24.80" height="35.60" fill="#F1E51D"/>
<rect x="1677.60" y="153.30" width="24.80" height="35.60" fill="#F1E51D"/>
<rect x="1677.60" y="188.60" width="24.80" height="35.60" fill="#F1E51D"/>
<rect x="1677.60" y="223.90" width="24.80" height="35.60" fill="#F1E51D"/>
<rect x="1677.60" y="259.20" width="24.80" height="35.60" fill="#F1E51D"/>
<rect x="1677.60" y="294.50" width="24.80" height="35.60" fill="#F1E51D"/>
<rect x="1702.10" y="153.30" width="24.80" height="35.60" fill="#F1E51D"/>
<rect x="1702.10" y="188.60" width="24.80" height="35.60" fill="#F1E51D"/>
<rect x="1702.10" y="223.90" width="24.80" height="35.60" fill="#F1E51D"/>
<rect x="1702.10" y="259.20" width="24.80" height="35.60" fill="#F1E51D"/>
<rect x="1702.10" y="294.50" width="24.80" height="35.60" fill="#F1E51D"/>
<rect x="1726.60" y="153.30" width="24.80" height="35.60" fill="#F1E51D"/>
<rect x="1726.60" y="188.60" width="24.80" height="35.60" fill="#F1E51D"/>
<rect x="1726.60" y="223.90" width="24.80" height="35.60" fill="#F1E51D"/>
<rect x="1726.60" y="259.20" width="24.80" height="35.60" fill="#F1E51D"/>
<rect x="1726.60" y="294.50" width="24.80" height="35.60" fill="#F1E51D"/>
<rect x="1751.10" y="153.30" width="24.80" height="35.60" fill="#F1E51D"/>
<rect x="1751.10" y="188.60" width="24.80" height="35.60" fill="#F1E51D"/>
<rect x="1751.10" y="223.90" width="24.80" height="35.60" fill="#F1E51D"/>
<rect x="1751.10" y="259.20" width="24.80" height="35.60" fill="#F1E51D"/>
<rect x="1751.10" y="294.50" width="24.80" height="35.60" fill="#F1E51D"/>
<rect x="1775.60" y="153.30" width="24.80" height="35.60" fill="#F1E51D"/>
<rect x="1775.60" y="188.60" width="24.80" height="35.60" fill="#F1E51D"/>
<rect x="1775.60" y="223.90" width="24.80" height="35.60" fill="#F1E51D"/>
<rect x="1775.60" y="259.20" width="24.80" height="35.60" fill="#F1E51D"/>
<rect x="1775.60" y="294.50" width="24.80" height="35.60" fill="#F1E51D"/>
<rect x="1800.10" y="153.30" width="24.80" height="35.60" fill="#F1E51D"/>
<rect x="1800.10" y="188.60" width="24.80" height="35.60" fill="#F1E51D"/>
<rect x="1800.10" y="223.90" width="24.80" height="35.60" fill="#F1E51D"/>
<rect x="1800.10" y="259.20" width="24.80" height="35.60" fill="#F1E51D"/>
<rect x="1800.10" y="294.50" width="24.80" height="35.60" fill="#F1E51D"/>
<rect x="1824.60" y="153.30" width="24.80" height="35.60" fill="#F1E51D"/>
<rect x="1824.60" y="188.60" width="24.80" height="35.60" fill="#F1E51D"/>
<rect x="1824.60" y="223.90" width="24.80" height="35.60" fill="#F1E51D"/>
<rect x="1824.60" y="259.20" width="24.80" height="35.60" fill="#F1E51D"/>
<rect x="1824.60" y="294.50" width="24.80" height="35.60" fill="#F1E51D"/>
<rect x="1849.10" y="153.30" width="24.80" height="35.60" fill="#69CD5B"/>
<rect x="1849.10" y="188.60" width="24.80" height="35.60" fill="#3DBC74"/>
<rect x="1849.10" y="223.90" width="24.80" height="35.60" fill="#1FA287"/>
<rect x="1849.10" y="259.20" width="24.80" height="35.60" fill="#26828E"/>
<rect x="1849.10" y="294.50" width="24.80" height="35.60" fill="#31688E"/>
<rect x="1873.60" y="153.30" width="24.80" height="35.60" fill="#287D8E"/>
<rect x="1873.60" y="188.60" width="24.80" height="35.60" fill="#2D708E"/>
<rect x="1873.60" y="223.90" width="24.80" height="35.60" fill="#31688E"/>
<rect x="1873.60" y="259.20" width="24.80" height="35.60" fill="#39568C"/>
<rect x="1873.60" y="294.50" width="24.80" height="35.60" fill="#414487"/>
<rect x="1898.10" y="153.30" width="24.80" height="35.60" fill="#287D8E"/>
<rect x="1898.10" y="188.60" width="24.80" height="35.60" fill="#2D708E"/>
<rect x="1898.10" y="223.90" width="24.80" height="35.60" fill="#31688E"/>
<rect x="1898.10" y="259.20" width="24.80" height="35.60" fill="#39568C"/>
<rect x="1898.10" y="294.50" width="24.80" height="35.60" fill="#414487"/>
<rect x="1922.60" y="153.30" width="24.80" height="35.60" fill="#287D8E"/>
<rect x="1922.60" y="188.60" width="24.80" height="35.60" fill="#2D708E"/>
<rect x="1922.60" y="223.90" width="24.80" height="35.60" fill="#31688E"/>
<rect x="1922.60" y="259.20" width="24.80" height="35.60" fill="#39568C"/>
<rect x="1922.60" y="294.50" width="24.80" height="35.60" fill="#414487"/>
<rect x="1947.10" y="153.30" width="24.80" height="35.60" fill="#287D8E"/>
<rect x="1947.10" y="188.60" width="24.80" height="35.60" fill="#2D708E"/>
<rect x="1947.10" y="223.90" width="24.80" height="35.60" fill="#31688E"/>
<rect x="1947.10" y="259.20" width="24.80" height="35.60" fill="#39568C"/>
<rect x="1947.10" y="294.50" width="24.80" height="35.60" fill="#414487"/>
<rect x="1971.60" y="153.30" width="12.70" height="35.60" fill="#287D8E"/>
<rect x="1971.60" y="188.60" width="12.70" height="35.60" fill="#2D708E"/>
<rect x="1971.60" y="223.90" width="12.70" height="35.60" fill="#31688E"/>
<rect x="1971.60" y="259.20" width="12.70" height="35.60" fill="#39568C"/>
<rect x="1971.60" y="294.50" width="12.70" height="35.60" fill="#414487"/>
<rect x="1542.90" y="364.00" width="272.98" height="35.36" fill="url(#c12)"/>
<rect x="1551.76" y="399.06" width="264.12" height="35.36" fill="url(#c11)"/>
<rect x="1551.76" y="434.13" width="258.32" height="35.36" fill="url(#c10)"/>
<rect x="1566.41" y="469.19" width="239.69" height="35.36" fill="url(#c9)"/>
<rect x="1580.15" y="504.25" width="220.46" height="35.36" fill="url(#c8)"/>
<rect x="1570.38" y="539.32" width="230.23" height="35.36" fill="url(#c7)"/>
<rect x="1610.08" y="574.38" width="185.95" height="35.36" fill="url(#c6)"/>
<rect x="1674.81" y="609.45" width="116.03" height="35.36" fill="url(#c5)"/>
<rect x="1596.03" y="644.51" width="194.20" height="35.36" fill="url(#c4)"/>
<rect x="1707.79" y="679.57" width="108.09" height="35.36" fill="url(#c3)"/>
</g>
<rect x="80.5" y="328.8" width="561.0" height="35.19999999999999" fill="#fff"/>
<line x1="80.5" y1="328.8" x2="641.5" y2="328.8" stroke="#000" stroke-width="4.2" stroke-dasharray="14.4 6.2"/>
<line x1="80.5" y1="364.0" x2="641.5" y2="364.0" stroke="#000" stroke-width="4.2" stroke-dasharray="14.4 6.2"/>
<rect x="80.5" y="153.3" width="561.0" height="596.4000000000001" fill="none" stroke="#000" stroke-width="1.7"/>
<line x1="80.5" y1="171.0" x2="84.7" y2="171.0" stroke="#000" stroke-width="1.4"/>
<line x1="80.5" y1="206.2" x2="84.7" y2="206.2" stroke="#000" stroke-width="1.4"/>
<line x1="80.5" y1="241.6" x2="84.7" y2="241.6" stroke="#000" stroke-width="1.4"/>
<line x1="80.5" y1="276.9" x2="84.7" y2="276.9" stroke="#000" stroke-width="1.4"/>
<line x1="80.5" y1="312.1" x2="84.7" y2="312.1" stroke="#000" stroke-width="1.4"/>
<line x1="80.5" y1="346.4" x2="84.7" y2="346.4" stroke="#000" stroke-width="1.4"/>
<line x1="80.5" y1="381.5" x2="84.7" y2="381.5" stroke="#000" stroke-width="1.4"/>
<line x1="80.5" y1="416.6" x2="84.7" y2="416.6" stroke="#000" stroke-width="1.4"/>
<line x1="80.5" y1="451.7" x2="84.7" y2="451.7" stroke="#000" stroke-width="1.4"/>
<line x1="80.5" y1="486.7" x2="84.7" y2="486.7" stroke="#000" stroke-width="1.4"/>
<line x1="80.5" y1="521.8" x2="84.7" y2="521.8" stroke="#000" stroke-width="1.4"/>
<line x1="80.5" y1="556.9" x2="84.7" y2="556.9" stroke="#000" stroke-width="1.4"/>
<line x1="80.5" y1="591.9" x2="84.7" y2="591.9" stroke="#000" stroke-width="1.4"/>
<line x1="80.5" y1="627.0" x2="84.7" y2="627.0" stroke="#000" stroke-width="1.4"/>
<line x1="80.5" y1="662.0" x2="84.7" y2="662.0" stroke="#000" stroke-width="1.4"/>
<line x1="80.5" y1="697.1" x2="84.7" y2="697.1" stroke="#000" stroke-width="1.4"/>
<line x1="80.5" y1="732.2" x2="84.7" y2="732.2" stroke="#000" stroke-width="1.4"/>
<line x1="80.5" y1="188.6" x2="90.1" y2="188.6" stroke="#000" stroke-width="3.3"/>
<text transform="translate(74.3,202.1) scale(0.93,1)" font-size="37" text-anchor="end" fill="#000"  >90</text>
<line x1="80.5" y1="328.8" x2="90.1" y2="328.8" stroke="#000" stroke-width="3.3"/>
<text transform="translate(74.3,342.3) scale(0.93,1)" font-size="37" text-anchor="end" fill="#000"  >70</text>
<line x1="80.5" y1="451.7" x2="90.1" y2="451.7" stroke="#000" stroke-width="3.3"/>
<text transform="translate(74.3,465.2) scale(0.93,1)" font-size="37" text-anchor="end" fill="#000"  >10</text>
<line x1="80.5" y1="591.9" x2="90.1" y2="591.9" stroke="#000" stroke-width="3.3"/>
<text transform="translate(74.3,605.4) scale(0.93,1)" font-size="37" text-anchor="end" fill="#000"  >6</text>
<line x1="80.5" y1="732.2" x2="90.1" y2="732.2" stroke="#000" stroke-width="3.3"/>
<text transform="translate(74.3,745.7) scale(0.93,1)" font-size="37" text-anchor="end" fill="#000"  >2</text>
<text transform="translate(24.5,452) rotate(-90)" font-size="40" font-style="italic" text-anchor="middle">L</text>
<rect x="752.5" y="328.8" width="561.2" height="35.19999999999999" fill="#fff"/>
<line x1="752.5" y1="328.8" x2="1313.7" y2="328.8" stroke="#000" stroke-width="4.2" stroke-dasharray="14.4 6.2"/>
<line x1="752.5" y1="364.0" x2="1313.7" y2="364.0" stroke="#000" stroke-width="4.2" stroke-dasharray="14.4 6.2"/>
<rect x="752.5" y="153.3" width="561.2" height="596.4000000000001" fill="none" stroke="#000" stroke-width="1.7"/>
<text transform="translate(746.3,202.1) scale(0.93,1)" font-size="37" text-anchor="end" fill="#000"  >90</text>
<text transform="translate(746.3,342.3) scale(0.93,1)" font-size="37" text-anchor="end" fill="#000"  >70</text>
<text transform="translate(746.3,465.2) scale(0.93,1)" font-size="37" text-anchor="end" fill="#000"  >10</text>
<text transform="translate(746.3,605.4) scale(0.93,1)" font-size="37" text-anchor="end" fill="#000"  >6</text>
<text transform="translate(746.3,745.7) scale(0.93,1)" font-size="37" text-anchor="end" fill="#000"  >2</text>
<text transform="translate(696.5,452) rotate(-90)" font-size="40" font-style="italic" text-anchor="middle">L</text>
<rect x="1422.7" y="328.8" width="561.3" height="35.19999999999999" fill="#fff"/>
<line x1="1422.7" y1="328.8" x2="1984.0" y2="328.8" stroke="#000" stroke-width="4.2" stroke-dasharray="14.4 6.2"/>
<line x1="1422.7" y1="364.0" x2="1984.0" y2="364.0" stroke="#000" stroke-width="4.2" stroke-dasharray="14.4 6.2"/>
<rect x="1422.7" y="153.3" width="561.3" height="596.4000000000001" fill="none" stroke="#000" stroke-width="1.7"/>
<line x1="1422.7" y1="171.0" x2="1426.9" y2="171.0" stroke="#000" stroke-width="1.4"/>
<line x1="1422.7" y1="206.2" x2="1426.9" y2="206.2" stroke="#000" stroke-width="1.4"/>
<line x1="1422.7" y1="241.6" x2="1426.9" y2="241.6" stroke="#000" stroke-width="1.4"/>
<line x1="1422.7" y1="276.9" x2="1426.9" y2="276.9" stroke="#000" stroke-width="1.4"/>
<line x1="1422.7" y1="312.1" x2="1426.9" y2="312.1" stroke="#000" stroke-width="1.4"/>
<line x1="1422.7" y1="346.4" x2="1426.9" y2="346.4" stroke="#000" stroke-width="1.4"/>
<line x1="1422.7" y1="381.5" x2="1426.9" y2="381.5" stroke="#000" stroke-width="1.4"/>
<line x1="1422.7" y1="416.6" x2="1426.9" y2="416.6" stroke="#000" stroke-width="1.4"/>
<line x1="1422.7" y1="451.7" x2="1426.9" y2="451.7" stroke="#000" stroke-width="1.4"/>
<line x1="1422.7" y1="486.7" x2="1426.9" y2="486.7" stroke="#000" stroke-width="1.4"/>
<line x1="1422.7" y1="521.8" x2="1426.9" y2="521.8" stroke="#000" stroke-width="1.4"/>
<line x1="1422.7" y1="556.9" x2="1426.9" y2="556.9" stroke="#000" stroke-width="1.4"/>
<line x1="1422.7" y1="591.9" x2="1426.9" y2="591.9" stroke="#000" stroke-width="1.4"/>
<line x1="1422.7" y1="627.0" x2="1426.9" y2="627.0" stroke="#000" stroke-width="1.4"/>
<line x1="1422.7" y1="662.0" x2="1426.9" y2="662.0" stroke="#000" stroke-width="1.4"/>
<line x1="1422.7" y1="697.1" x2="1426.9" y2="697.1" stroke="#000" stroke-width="1.4"/>
<line x1="1422.7" y1="732.2" x2="1426.9" y2="732.2" stroke="#000" stroke-width="1.4"/>
<line x1="1422.7" y1="188.6" x2="1432.3" y2="188.6" stroke="#000" stroke-width="3.3"/>
<text transform="translate(1416.5,202.1) scale(0.93,1)" font-size="37" text-anchor="end" fill="#000"  >90</text>
<line x1="1422.7" y1="328.8" x2="1432.3" y2="328.8" stroke="#000" stroke-width="3.3"/>
<text transform="translate(1416.5,342.3) scale(0.93,1)" font-size="37" text-anchor="end" fill="#000"  >70</text>
<line x1="1422.7" y1="451.7" x2="1432.3" y2="451.7" stroke="#000" stroke-width="3.3"/>
<text transform="translate(1416.5,465.2) scale(0.93,1)" font-size="37" text-anchor="end" fill="#000"  >10</text>
<line x1="1422.7" y1="591.9" x2="1432.3" y2="591.9" stroke="#000" stroke-width="3.3"/>
<text transform="translate(1416.5,605.4) scale(0.93,1)" font-size="37" text-anchor="end" fill="#000"  >6</text>
<line x1="1422.7" y1="732.2" x2="1432.3" y2="732.2" stroke="#000" stroke-width="3.3"/>
<text transform="translate(1416.5,745.7) scale(0.93,1)" font-size="37" text-anchor="end" fill="#000"  >2</text>
<text transform="translate(1366.7,452) rotate(-90)" font-size="40" font-style="italic" text-anchor="middle">L</text>
<text x="599.0" y="198.5" font-size="38" text-anchor="middle" fill="#fff"  >(a)</text>
<text x="1271.0" y="198.5" font-size="38" text-anchor="middle" fill="#fff"  >(b)</text>
<text x="1940.0" y="198.5" font-size="38" text-anchor="middle" fill="#fff"  >(c)</text>
<text x="1458.0" y="460.0" font-size="38" text-anchor="middle" fill="#fff"  >I</text>
<text x="1693.0" y="460.0" font-size="38" text-anchor="middle" fill="#000"  >II</text>
<text x="1919.0" y="460.0" font-size="38" text-anchor="middle" fill="#fff"  >III</text>
<line x1="204.6" y1="1270.0" x2="204.6" y2="763.3" stroke="#000" stroke-width="4.2" stroke-dasharray="14.4 6.2"/>
<line x1="447.9" y1="1270.0" x2="447.9" y2="763.3" stroke="#000" stroke-width="4.2" stroke-dasharray="14.4 6.2"/>
<path d="M88.3,1247.7C100.1,1246.0 111.3,1244.2 132.5,1241.1C153.7,1238.0 151.3,1238.8 167.8,1236.2C184.3,1233.7 183.7,1233.9 194.3,1231.4C204.9,1228.9 201.7,1230.7 207.6,1227.0C213.5,1223.2 211.3,1222.9 216.4,1217.3C221.5,1211.6 218.9,1210.5 226.6,1205.8C234.2,1201.1 234.9,1204.1 245.1,1199.6C255.4,1195.1 255.0,1195.6 265.0,1189.0C275.0,1182.4 273.8,1181.6 282.6,1174.9C291.5,1168.1 288.2,1170.9 298.1,1163.8C308.0,1156.8 309.7,1156.0 319.7,1148.4C329.8,1140.7 326.7,1143.4 335.6,1135.1C344.6,1126.9 343.9,1127.1 353.3,1117.4C362.7,1107.8 361.6,1110.0 371.0,1098.9C380.4,1087.8 380.4,1087.5 388.6,1075.9C396.9,1064.4 394.8,1066.6 401.9,1055.6C409.0,1044.7 408.7,1046.3 415.1,1034.9C421.6,1023.4 420.9,1025.7 426.2,1012.8C431.5,999.8 431.5,1002.2 435.0,986.3C438.5,970.4 437.1,977.3 439.4,953.2C441.8,929.0 441.5,926.4 443.8,895.7C446.2,865.1 445.9,861.9 448.3,838.3C450.6,814.8 450.3,819.8 452.7,807.4C455.0,795.0 454.4,797.5 457.1,792.0C459.8,786.4 461.3,788.1 462.8,786.7L619.6,786.7" fill="none" stroke="#1E90FF" stroke-width="4.1" stroke-linejoin="round" stroke-linecap="butt"/>
<rect x="80.5" y="763.3" width="561.2" height="506.70000000000005" fill="none" stroke="#000" stroke-width="1.7"/>
<line x1="136.0" y1="1270.0" x2="136.0" y2="1258.5" stroke="#000" stroke-width="2.8"/>
<text transform="translate(136.0,1302.0) scale(0.93,1)" font-size="37" text-anchor="middle" fill="#000"  >2</text>
<line x1="319.8" y1="1270.0" x2="319.8" y2="1258.5" stroke="#000" stroke-width="2.8"/>
<text transform="translate(319.8,1302.0) scale(0.93,1)" font-size="37" text-anchor="middle" fill="#000"  >6</text>
<line x1="503.5" y1="1270.0" x2="503.5" y2="1258.5" stroke="#000" stroke-width="2.8"/>
<text transform="translate(503.5,1302.0) scale(0.93,1)" font-size="37" text-anchor="middle" fill="#000"  >10</text>
<text x="363.1" y="1343.0" font-size="40" text-anchor="middle" fill="#000" font-style="italic" >F</text>
<line x1="80.5" y1="860.4" x2="92.0" y2="860.4" stroke="#000" stroke-width="2.8"/>
<text transform="translate(74.3,873.9) scale(0.93,1)" font-size="37" text-anchor="end" fill="#000"  >40</text>
<line x1="80.5" y1="1055.7" x2="92.0" y2="1055.7" stroke="#000" stroke-width="2.8"/>
<text transform="translate(74.3,1069.2) scale(0.93,1)" font-size="37" text-anchor="end" fill="#000"  >20</text>
<line x1="80.5" y1="1251.3" x2="92.0" y2="1251.3" stroke="#000" stroke-width="2.8"/>
<text transform="translate(74.3,1264.8) scale(0.93,1)" font-size="37" text-anchor="end" fill="#000"  >0</text>
<text x="137.0" y="823.5" font-size="38" text-anchor="middle" fill="#000"  >(d)</text>
<text x="141.0" y="955.0" font-size="38" text-anchor="middle" fill="#000"  >I</text>
<text x="331.0" y="955.0" font-size="38" text-anchor="middle" fill="#000"  >II</text>
<text x="545.5" y="955.0" font-size="38" text-anchor="middle" fill="#000"  >III</text>
<text transform="translate(25.8,1016.5) rotate(-90)" font-size="40" text-anchor="middle" letter-spacing="2.5"><tspan font-style="italic">n</tspan><tspan font-style="italic" font-size="28" dy="7">L</tspan></text>
<path d="M768.1,1215.9C786.9,1215.8 811.7,1216.1 838.7,1215.5C865.8,1214.9 858.5,1215.1 869.7,1213.7C880.8,1212.3 875.4,1214.0 880.7,1210.2C886.0,1206.4 884.2,1204.9 889.5,1199.6C894.8,1194.3 892.9,1194.8 900.6,1190.3C908.2,1185.8 908.8,1188.9 918.2,1182.8C927.7,1176.7 926.5,1177.9 935.9,1167.4C945.3,1156.8 945.3,1154.2 953.6,1143.1C961.8,1131.9 959.2,1136.0 966.8,1125.4C974.5,1114.8 975.2,1113.3 982.3,1103.3C989.3,1093.3 988.0,1096.1 993.3,1087.9C998.6,1079.6 996.3,1084.8 1002.1,1072.4C1008.0,1060.0 1008.3,1058.6 1015.4,1041.5C1022.5,1024.4 1021.6,1025.4 1028.6,1008.4C1035.7,991.3 1035.4,993.3 1041.9,977.4C1048.4,961.5 1047.6,962.3 1052.9,948.7C1058.2,935.2 1057.1,939.0 1061.8,926.7C1066.5,914.3 1065.9,915.3 1070.6,902.4C1075.3,889.4 1074.7,890.4 1079.4,878.1C1084.1,865.7 1083.6,867.2 1088.3,856.0C1093.0,844.8 1093.0,846.7 1097.1,836.1C1101.2,825.5 1100.8,825.7 1103.7,816.2C1106.7,806.8 1106.1,808.8 1108.1,800.8C1110.1,792.8 1110.4,790.1 1111.2,786.2L1115.6,833.9L1119.2,926.7L1122.3,1037.1L1125.8,1143.1L1129.3,1222.6L1133.8,1242.4L1139.1,1246.8L1143.5,1245.5L1147.9,1246.8L1292.3,1246.0" fill="none" stroke="#1E90FF" stroke-width="4.1" stroke-linejoin="round" stroke-linecap="butt"/>
<line x1="753.0" y1="1216" x2="1314.0" y2="1216" stroke="#000" stroke-width="4.2" stroke-dasharray="14.4 6.2"/>
<rect x="753.0" y="763.3" width="561.0" height="506.70000000000005" fill="none" stroke="#000" stroke-width="1.7"/>
<line x1="808.3" y1="1270.0" x2="808.3" y2="1258.5" stroke="#000" stroke-width="2.8"/>
<text transform="translate(808.3,1302.0) scale(0.93,1)" font-size="37" text-anchor="middle" fill="#000"  >2</text>
<line x1="991.6" y1="1270.0" x2="991.6" y2="1258.5" stroke="#000" stroke-width="2.8"/>
<text transform="translate(991.6,1302.0) scale(0.93,1)" font-size="37" text-anchor="middle" fill="#000"  >6</text>
<line x1="1175.3" y1="1270.0" x2="1175.3" y2="1258.5" stroke="#000" stroke-width="2.8"/>
<text transform="translate(1175.3,1302.0) scale(0.93,1)" font-size="37" text-anchor="middle" fill="#000"  >10</text>
<text x="1035.5" y="1343.0" font-size="40" text-anchor="middle" fill="#000" font-style="italic" >F</text>
<line x1="753.0" y1="876.8" x2="764.5" y2="876.8" stroke="#000" stroke-width="2.8"/>
<text transform="translate(746.8,890.3) scale(0.93,1)" font-size="37" text-anchor="end" fill="#000"  >200</text>
<line x1="753.0" y1="1045.9" x2="764.5" y2="1045.9" stroke="#000" stroke-width="2.8"/>
<text transform="translate(746.8,1059.4) scale(0.93,1)" font-size="37" text-anchor="end" fill="#000"  >100</text>
<line x1="753.0" y1="1216.0" x2="764.5" y2="1216.0" stroke="#000" stroke-width="2.8"/>
<text transform="translate(746.8,1229.5) scale(0.93,1)" font-size="37" text-anchor="end" fill="#000"  >0</text>
<text x="807.5" y="823.5" font-size="38" text-anchor="middle" fill="#000"  >(e)</text>
<text transform="translate(681,1015.8) rotate(-90)" font-size="40" text-anchor="middle" letter-spacing="1.5"><tspan font-style="italic">δn</tspan><tspan font-style="italic" font-size="28" dy="7">L</tspan></text>
<polyline points="1429.0,1246.8 1529.7,1246.8 1538.5,1246.0 1542.9,1242.9 1547.3,1238.0 1550.9,1227.0 1555.3,1191.6 1560.6,1147.5 1565.0,1103.3 1569.4,1072.4 1573.8,1061.4 1579.1,1050.3 1584.9,1023.8 1591.5,992.9 1598.1,966.4 1604.7,926.7 1611.4,891.3 1618.0,869.2 1624.6,845.0 1629.0,840.5 1634.3,830.8 1638.7,831.7 1643.6,827.3 1648.0,826.8 1653.3,818.5 1657.7,816.2 1662.1,819.3 1668.8,814.0 1675.4,807.9 1679.8,810.1 1683.3,801.7 1688.6,802.1 1694.4,794.6 1698.8,794.2 1702.8,791.5 1708.5,795.0 1712.9,795.5 1721.8,790.2 1730.6,789.7 1735.0,792.0 1739.4,789.7 1748.3,789.3 1754.9,786.2 1759.3,787.1 1762.8,789.7 1768.1,789.3 1772.6,802.1 1777.0,815.4 1781.4,873.7 1785.8,970.8 1790.2,1085.6 1794.6,1191.6 1799.1,1233.6 1804.4,1245.5 1808.8,1247.3 1813.2,1246.4 1817.6,1247.3 1962.5,1246.8" fill="none" stroke="#1E90FF" stroke-width="4.1" stroke-linejoin="round" stroke-linecap="butt"/>
<rect x="1422.8" y="763.3" width="561.4000000000001" height="506.70000000000005" fill="none" stroke="#000" stroke-width="1.7"/>
<line x1="1477.6" y1="1270.0" x2="1477.6" y2="1258.5" stroke="#000" stroke-width="2.8"/>
<text transform="translate(1477.6,1302.0) scale(0.93,1)" font-size="37" text-anchor="middle" fill="#000"  >2</text>
<line x1="1661.3" y1="1270.0" x2="1661.3" y2="1258.5" stroke="#000" stroke-width="2.8"/>
<text transform="translate(1661.3,1302.0) scale(0.93,1)" font-size="37" text-anchor="middle" fill="#000"  >6</text>
<line x1="1845.5" y1="1270.0" x2="1845.5" y2="1258.5" stroke="#000" stroke-width="2.8"/>
<text transform="translate(1845.5,1302.0) scale(0.93,1)" font-size="37" text-anchor="middle" fill="#000"  >10</text>
<text x="1705.5" y="1343.0" font-size="40" text-anchor="middle" fill="#000" font-style="italic" >F</text>
<line x1="1422.8" y1="785.3" x2="1434.3" y2="785.3" stroke="#000" stroke-width="2.8"/>
<text transform="translate(1416.6,798.8) scale(0.93,1)" font-size="37" text-anchor="end" fill="#000"  >1</text>
<line x1="1422.8" y1="1016.3" x2="1434.3" y2="1016.3" stroke="#000" stroke-width="2.8"/>
<text transform="translate(1416.6,1029.8) scale(0.93,1)" font-size="37" text-anchor="end" fill="#000"  >0.5</text>
<line x1="1422.8" y1="1246.9" x2="1434.3" y2="1246.9" stroke="#000" stroke-width="2.8"/>
<text transform="translate(1416.6,1260.4) scale(0.93,1)" font-size="37" text-anchor="end" fill="#000"  >0</text>
<text x="1474.5" y="822.0" font-size="38" text-anchor="middle" fill="#000"  >(f)</text>
<text transform="translate(1355,1017.5) rotate(-90)" font-size="40" text-anchor="middle" letter-spacing="0.3"><tspan font-style="italic">D</tspan><tspan font-size="28" dy="7">1,</tspan><tspan font-size="28" font-style="italic">L</tspan><tspan dy="-7">(</tspan><tspan font-style="italic">τ</tspan><tspan dx="1" font-size="57">→</tspan><tspan dx="0" dy="4" font-size="51">∞</tspan><tspan dy="-4">)</tspan></text>
</svg></body></html>
